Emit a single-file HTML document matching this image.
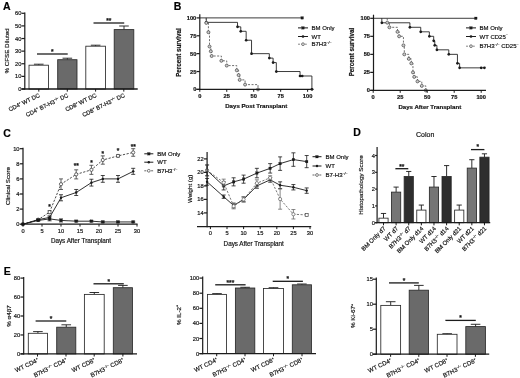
<!DOCTYPE html>
<html><head><meta charset="utf-8"><title>Figure</title>
<style>
html,body{margin:0;padding:0;background:#fff;}
svg{display:block;font-family:"Liberation Sans",sans-serif;}
</style></head><body>
<svg width="520" height="378" viewBox="0 0 520 378">
<defs><filter id="bl" x="-2%" y="-2%" width="104%" height="104%"><feGaussianBlur stdDeviation="0.35"/></filter></defs>
<rect width="520" height="378" fill="#fff"/>
<g filter="url(#bl)">
<text x="3.00" y="10.20" font-size="10.5" text-anchor="start" font-weight="bold" fill="#000" stroke="#000" stroke-width="0.18">A</text>
<line x1="38.75" y1="65.20" x2="38.75" y2="64.20" stroke="#1a1a1a" stroke-width="0.9" stroke-linecap="butt"/>
<line x1="33.95" y1="64.20" x2="43.55" y2="64.20" stroke="#1a1a1a" stroke-width="0.9" stroke-linecap="butt"/>
<rect x="29.00" y="65.20" width="19.50" height="23.80" fill="#ffffff" stroke="#2a2a2a" stroke-width="0.85"/>
<line x1="67.35" y1="59.70" x2="67.35" y2="58.20" stroke="#1a1a1a" stroke-width="0.9" stroke-linecap="butt"/>
<line x1="62.55" y1="58.20" x2="72.15" y2="58.20" stroke="#1a1a1a" stroke-width="0.9" stroke-linecap="butt"/>
<rect x="57.70" y="59.70" width="19.30" height="29.30" fill="#6a6a6a" stroke="#2a2a2a" stroke-width="0.85"/>
<line x1="95.65" y1="46.20" x2="95.65" y2="45.20" stroke="#1a1a1a" stroke-width="0.9" stroke-linecap="butt"/>
<line x1="90.85" y1="45.20" x2="100.45" y2="45.20" stroke="#1a1a1a" stroke-width="0.9" stroke-linecap="butt"/>
<rect x="85.80" y="46.20" width="19.70" height="42.80" fill="#ffffff" stroke="#2a2a2a" stroke-width="0.85"/>
<line x1="124.00" y1="29.60" x2="124.00" y2="26.00" stroke="#1a1a1a" stroke-width="0.9" stroke-linecap="butt"/>
<line x1="119.20" y1="26.00" x2="128.80" y2="26.00" stroke="#1a1a1a" stroke-width="0.9" stroke-linecap="butt"/>
<rect x="114.20" y="29.60" width="19.60" height="59.40" fill="#6a6a6a" stroke="#2a2a2a" stroke-width="0.85"/>
<line x1="24.80" y1="12.50" x2="24.80" y2="89.60" stroke="#1a1a1a" stroke-width="1.2" stroke-linecap="butt"/>
<line x1="21.50" y1="89.00" x2="24.80" y2="89.00" stroke="#1a1a1a" stroke-width="1.2" stroke-linecap="butt"/>
<text x="21.30" y="91.05" font-size="5.7" text-anchor="end" fill="#111" stroke="#111" stroke-width="0.18">0</text>
<line x1="21.50" y1="76.38" x2="24.80" y2="76.38" stroke="#1a1a1a" stroke-width="1.2" stroke-linecap="butt"/>
<text x="21.30" y="78.43" font-size="5.7" text-anchor="end" fill="#111" stroke="#111" stroke-width="0.18">10</text>
<line x1="21.50" y1="63.76" x2="24.80" y2="63.76" stroke="#1a1a1a" stroke-width="1.2" stroke-linecap="butt"/>
<text x="21.30" y="65.81" font-size="5.7" text-anchor="end" fill="#111" stroke="#111" stroke-width="0.18">20</text>
<line x1="21.50" y1="51.14" x2="24.80" y2="51.14" stroke="#1a1a1a" stroke-width="1.2" stroke-linecap="butt"/>
<text x="21.30" y="53.19" font-size="5.7" text-anchor="end" fill="#111" stroke="#111" stroke-width="0.18">30</text>
<line x1="21.50" y1="38.52" x2="24.80" y2="38.52" stroke="#1a1a1a" stroke-width="1.2" stroke-linecap="butt"/>
<text x="21.30" y="40.57" font-size="5.7" text-anchor="end" fill="#111" stroke="#111" stroke-width="0.18">40</text>
<line x1="21.50" y1="25.90" x2="24.80" y2="25.90" stroke="#1a1a1a" stroke-width="1.2" stroke-linecap="butt"/>
<text x="21.30" y="27.95" font-size="5.7" text-anchor="end" fill="#111" stroke="#111" stroke-width="0.18">50</text>
<line x1="21.50" y1="13.28" x2="24.80" y2="13.28" stroke="#1a1a1a" stroke-width="1.2" stroke-linecap="butt"/>
<text x="21.30" y="15.33" font-size="5.7" text-anchor="end" fill="#111" stroke="#111" stroke-width="0.18">60</text>
<line x1="21.50" y1="89.00" x2="137.70" y2="89.00" stroke="#1a1a1a" stroke-width="1.3" stroke-linecap="butt"/>
<line x1="38.80" y1="89.00" x2="38.80" y2="91.60" stroke="#1a1a1a" stroke-width="1.0" stroke-linecap="butt"/>
<text x="40.30" y="96.60" font-size="5.8" text-anchor="end" transform="rotate(-26 40.30 96.60)" fill="#111" stroke="#111" stroke-width="0.18">CD4<tspan font-size="58%" dy="-2.3">+</tspan><tspan dy="2.3">&#8203;</tspan> WT DC</text>
<line x1="67.30" y1="89.00" x2="67.30" y2="91.60" stroke="#1a1a1a" stroke-width="1.0" stroke-linecap="butt"/>
<text x="68.80" y="96.60" font-size="5.8" text-anchor="end" transform="rotate(-26 68.80 96.60)" fill="#111" stroke="#111" stroke-width="0.18">CD4<tspan font-size="58%" dy="-2.3">+</tspan><tspan dy="2.3">&#8203;</tspan> B7-H3<tspan font-size="58%" dy="-2.3">&#8722;/&#8722;</tspan><tspan dy="2.3">&#8203;</tspan> DC</text>
<line x1="95.60" y1="89.00" x2="95.60" y2="91.60" stroke="#1a1a1a" stroke-width="1.0" stroke-linecap="butt"/>
<text x="97.10" y="96.60" font-size="5.8" text-anchor="end" transform="rotate(-26 97.10 96.60)" fill="#111" stroke="#111" stroke-width="0.18">CD8<tspan font-size="58%" dy="-2.3">+</tspan><tspan dy="2.3">&#8203;</tspan> WT DC</text>
<line x1="123.80" y1="89.00" x2="123.80" y2="91.60" stroke="#1a1a1a" stroke-width="1.0" stroke-linecap="butt"/>
<text x="125.30" y="96.60" font-size="5.8" text-anchor="end" transform="rotate(-26 125.30 96.60)" fill="#111" stroke="#111" stroke-width="0.18">CD8<tspan font-size="58%" dy="-2.3">+</tspan><tspan dy="2.3">&#8203;</tspan> B7-H3<tspan font-size="58%" dy="-2.3">&#8722;/&#8722;</tspan><tspan dy="2.3">&#8203;</tspan> DC</text>
<text x="9.20" y="51.00" font-size="6.25" text-anchor="middle" transform="rotate(-90 9.20 51.00)" fill="#111" stroke="#111" stroke-width="0.18">% CFSE Diluted</text>
<line x1="37.00" y1="54.00" x2="67.70" y2="54.00" stroke="#1a1a1a" stroke-width="1.3" stroke-linecap="butt"/>
<text x="52.35" y="53.80" font-size="6.5" text-anchor="middle" font-weight="bold" fill="#111" stroke="#111" stroke-width="0.18">*</text>
<line x1="93.50" y1="23.00" x2="124.20" y2="23.00" stroke="#1a1a1a" stroke-width="1.3" stroke-linecap="butt"/>
<text x="108.85" y="22.80" font-size="6.5" text-anchor="middle" font-weight="bold" fill="#111" stroke="#111" stroke-width="0.18">**</text>
<text x="173.80" y="9.60" font-size="10.5" text-anchor="start" font-weight="bold" fill="#000" stroke="#000" stroke-width="0.18">B</text>
<line x1="199.80" y1="17.90" x2="302.21" y2="17.90" stroke="#1a1a1a" stroke-width="0.85" stroke-linecap="butt"/>
<rect x="300.91" y="16.60" width="2.60" height="2.60" fill="#1a1a1a" stroke="#1a1a1a" stroke-width="0.2"/>
<path d="M206.27,17.90 V22.37 H237.53 V26.84 H240.76 V31.31 H246.15 V40.24 H251.54 V53.65 H269.33 V58.12 H273.10 V62.59 H276.34 V71.53 H300.05 V75.99 H302.21 V75.99 H311.91 V89.40" fill="none" stroke="#1a1a1a" stroke-width="0.85"/>
<circle cx="206.27" cy="22.37" r="1.35" fill="#1a1a1a"/>
<circle cx="237.53" cy="26.84" r="1.35" fill="#1a1a1a"/>
<circle cx="240.76" cy="31.31" r="1.35" fill="#1a1a1a"/>
<circle cx="246.15" cy="40.24" r="1.35" fill="#1a1a1a"/>
<circle cx="251.54" cy="53.65" r="1.35" fill="#1a1a1a"/>
<circle cx="269.33" cy="58.12" r="1.35" fill="#1a1a1a"/>
<circle cx="273.10" cy="62.59" r="1.35" fill="#1a1a1a"/>
<circle cx="276.34" cy="71.53" r="1.35" fill="#1a1a1a"/>
<circle cx="300.05" cy="75.99" r="1.35" fill="#1a1a1a"/>
<circle cx="302.21" cy="75.99" r="1.35" fill="#1a1a1a"/>
<circle cx="311.91" cy="89.40" r="1.35" fill="#1a1a1a"/>
<path d="M206.27,17.90 V22.91 H208.42 V32.20 H209.50 V46.50 H210.80 V51.29 H211.66 V56.01 H221.36 V60.80 H226.75 V65.59 H236.78 V70.31 H238.61 V75.10 H239.69 V79.89 H245.08 V84.61 H258.01 V89.40" fill="none" stroke="#555" stroke-width="0.85" stroke-dasharray="2 1.5"/>
<circle cx="206.27" cy="22.91" r="1.5" fill="#ccc" stroke="#444" stroke-width="0.7"/>
<circle cx="208.42" cy="32.20" r="1.5" fill="#ccc" stroke="#444" stroke-width="0.7"/>
<circle cx="209.50" cy="46.50" r="1.5" fill="#ccc" stroke="#444" stroke-width="0.7"/>
<circle cx="210.80" cy="51.29" r="1.5" fill="#ccc" stroke="#444" stroke-width="0.7"/>
<circle cx="211.66" cy="56.01" r="1.5" fill="#ccc" stroke="#444" stroke-width="0.7"/>
<circle cx="221.36" cy="60.80" r="1.5" fill="#ccc" stroke="#444" stroke-width="0.7"/>
<circle cx="226.75" cy="65.59" r="1.5" fill="#ccc" stroke="#444" stroke-width="0.7"/>
<circle cx="236.78" cy="70.31" r="1.5" fill="#ccc" stroke="#444" stroke-width="0.7"/>
<circle cx="238.61" cy="75.10" r="1.5" fill="#ccc" stroke="#444" stroke-width="0.7"/>
<circle cx="239.69" cy="79.89" r="1.5" fill="#ccc" stroke="#444" stroke-width="0.7"/>
<circle cx="245.08" cy="84.61" r="1.5" fill="#ccc" stroke="#444" stroke-width="0.7"/>
<circle cx="258.01" cy="89.40" r="1.5" fill="#ccc" stroke="#444" stroke-width="0.7"/>
<line x1="199.80" y1="14.30" x2="199.80" y2="90.00" stroke="#1a1a1a" stroke-width="1.2" stroke-linecap="butt"/>
<line x1="196.50" y1="89.40" x2="199.80" y2="89.40" stroke="#1a1a1a" stroke-width="1.2" stroke-linecap="butt"/>
<text x="196.30" y="91.45" font-size="5.7" text-anchor="end" font-weight="bold" fill="#111" stroke="#111" stroke-width="0.18">0</text>
<line x1="196.50" y1="71.53" x2="199.80" y2="71.53" stroke="#1a1a1a" stroke-width="1.2" stroke-linecap="butt"/>
<text x="196.30" y="73.58" font-size="5.7" text-anchor="end" font-weight="bold" fill="#111" stroke="#111" stroke-width="0.18">25</text>
<line x1="196.50" y1="53.65" x2="199.80" y2="53.65" stroke="#1a1a1a" stroke-width="1.2" stroke-linecap="butt"/>
<text x="196.30" y="55.70" font-size="5.7" text-anchor="end" font-weight="bold" fill="#111" stroke="#111" stroke-width="0.18">50</text>
<line x1="196.50" y1="35.78" x2="199.80" y2="35.78" stroke="#1a1a1a" stroke-width="1.2" stroke-linecap="butt"/>
<text x="196.30" y="37.83" font-size="5.7" text-anchor="end" font-weight="bold" fill="#111" stroke="#111" stroke-width="0.18">75</text>
<line x1="196.50" y1="17.90" x2="199.80" y2="17.90" stroke="#1a1a1a" stroke-width="1.2" stroke-linecap="butt"/>
<text x="196.30" y="19.95" font-size="5.7" text-anchor="end" font-weight="bold" fill="#111" stroke="#111" stroke-width="0.18">100</text>
<line x1="196.50" y1="89.40" x2="313.50" y2="89.40" stroke="#1a1a1a" stroke-width="1.3" stroke-linecap="butt"/>
<line x1="199.80" y1="89.40" x2="199.80" y2="91.80" stroke="#1a1a1a" stroke-width="1.0" stroke-linecap="butt"/>
<text x="199.80" y="98.30" font-size="5.7" text-anchor="middle" font-weight="bold" fill="#111" stroke="#111" stroke-width="0.18">0</text>
<line x1="226.75" y1="89.40" x2="226.75" y2="91.80" stroke="#1a1a1a" stroke-width="1.0" stroke-linecap="butt"/>
<text x="226.75" y="98.30" font-size="5.7" text-anchor="middle" font-weight="bold" fill="#111" stroke="#111" stroke-width="0.18">25</text>
<line x1="253.70" y1="89.40" x2="253.70" y2="91.80" stroke="#1a1a1a" stroke-width="1.0" stroke-linecap="butt"/>
<text x="253.70" y="98.30" font-size="5.7" text-anchor="middle" font-weight="bold" fill="#111" stroke="#111" stroke-width="0.18">50</text>
<line x1="280.65" y1="89.40" x2="280.65" y2="91.80" stroke="#1a1a1a" stroke-width="1.0" stroke-linecap="butt"/>
<text x="280.65" y="98.30" font-size="5.7" text-anchor="middle" font-weight="bold" fill="#111" stroke="#111" stroke-width="0.18">75</text>
<line x1="307.60" y1="89.40" x2="307.60" y2="91.80" stroke="#1a1a1a" stroke-width="1.0" stroke-linecap="butt"/>
<text x="307.60" y="98.30" font-size="5.7" text-anchor="middle" font-weight="bold" fill="#111" stroke="#111" stroke-width="0.18">100</text>
<text x="256.20" y="108.20" font-size="6.1" text-anchor="middle" font-weight="bold" fill="#111" stroke="#111" stroke-width="0.18">Days Post Transplant</text>
<text x="181.00" y="52.50" font-size="6.3" text-anchor="middle" font-weight="bold" transform="rotate(-90 181.00 52.50)" fill="#111" stroke="#111" stroke-width="0.18">Percent survival</text>
<line x1="298.00" y1="27.90" x2="308.00" y2="27.90" stroke="#1a1a1a" stroke-width="1.0" stroke-linecap="butt"/>
<rect x="301.70" y="26.60" width="2.60" height="2.60" fill="#1a1a1a" stroke="#1a1a1a" stroke-width="0.2"/>
<text x="311.50" y="30.05" font-size="6.0" text-anchor="start" fill="#111" stroke="#111" stroke-width="0.18">BM Only</text>
<line x1="298.00" y1="36.50" x2="308.00" y2="36.50" stroke="#1a1a1a" stroke-width="1.0" stroke-linecap="butt"/>
<circle cx="303.00" cy="36.50" r="1.35" fill="#1a1a1a"/>
<text x="311.50" y="38.65" font-size="6.0" text-anchor="start" fill="#111" stroke="#111" stroke-width="0.18">WT</text>
<line x1="298.00" y1="44.20" x2="308.00" y2="44.20" stroke="#777" stroke-width="0.9" stroke-dasharray="2 1.4" stroke-linecap="butt"/>
<circle cx="303.00" cy="44.20" r="1.4" fill="#ddd" stroke="#555" stroke-width="0.7"/>
<text x="311.50" y="46.35" font-size="6.0" text-anchor="start" fill="#111" stroke="#111" stroke-width="0.18">B7H3<tspan font-size="58%" dy="-2.3">&#8722;/&#8722;</tspan><tspan dy="2.3">&#8203;</tspan></text>
<line x1="373.50" y1="18.30" x2="475.80" y2="18.30" stroke="#1a1a1a" stroke-width="0.85" stroke-linecap="butt"/>
<rect x="474.50" y="17.00" width="2.60" height="2.60" fill="#1a1a1a" stroke="#1a1a1a" stroke-width="0.2"/>
<path d="M381.84,18.30 V22.81 H409.92 V27.31 H420.72 V31.82 H429.36 V36.32 H433.68 V40.83 H434.76 V45.34 H436.92 V49.84 H448.80 V54.35 H457.44 V63.36 H459.60 V67.87 H481.20 V67.87 H484.44 V67.87" fill="none" stroke="#1a1a1a" stroke-width="0.85"/>
<circle cx="381.84" cy="22.81" r="1.35" fill="#1a1a1a"/>
<circle cx="409.92" cy="27.31" r="1.35" fill="#1a1a1a"/>
<circle cx="420.72" cy="31.82" r="1.35" fill="#1a1a1a"/>
<circle cx="429.36" cy="36.32" r="1.35" fill="#1a1a1a"/>
<circle cx="433.68" cy="40.83" r="1.35" fill="#1a1a1a"/>
<circle cx="434.76" cy="45.34" r="1.35" fill="#1a1a1a"/>
<circle cx="436.92" cy="49.84" r="1.35" fill="#1a1a1a"/>
<circle cx="448.80" cy="54.35" r="1.35" fill="#1a1a1a"/>
<circle cx="457.44" cy="63.36" r="1.35" fill="#1a1a1a"/>
<circle cx="459.60" cy="67.87" r="1.35" fill="#1a1a1a"/>
<circle cx="481.20" cy="67.87" r="1.35" fill="#1a1a1a"/>
<circle cx="484.44" cy="67.87" r="1.35" fill="#1a1a1a"/>
<path d="M387.24,18.30 V22.63 H389.40 V27.31 H397.50 V31.82 H399.12 V36.32 H403.44 V45.34 H404.30 V54.35 H408.84 V58.86 H411.32 V63.36 H412.94 V72.38 H414.24 V76.88 H417.48 V81.39 H421.80 V85.89 H425.80 V90.40" fill="none" stroke="#555" stroke-width="0.85" stroke-dasharray="2 1.5"/>
<circle cx="387.24" cy="22.63" r="1.5" fill="#ccc" stroke="#444" stroke-width="0.7"/>
<circle cx="389.40" cy="27.31" r="1.5" fill="#ccc" stroke="#444" stroke-width="0.7"/>
<circle cx="397.50" cy="31.82" r="1.5" fill="#ccc" stroke="#444" stroke-width="0.7"/>
<circle cx="399.12" cy="36.32" r="1.5" fill="#ccc" stroke="#444" stroke-width="0.7"/>
<circle cx="403.44" cy="45.34" r="1.5" fill="#ccc" stroke="#444" stroke-width="0.7"/>
<circle cx="404.30" cy="54.35" r="1.5" fill="#ccc" stroke="#444" stroke-width="0.7"/>
<circle cx="408.84" cy="58.86" r="1.5" fill="#ccc" stroke="#444" stroke-width="0.7"/>
<circle cx="411.32" cy="63.36" r="1.5" fill="#ccc" stroke="#444" stroke-width="0.7"/>
<circle cx="412.94" cy="72.38" r="1.5" fill="#ccc" stroke="#444" stroke-width="0.7"/>
<circle cx="414.24" cy="76.88" r="1.5" fill="#ccc" stroke="#444" stroke-width="0.7"/>
<circle cx="417.48" cy="81.39" r="1.5" fill="#ccc" stroke="#444" stroke-width="0.7"/>
<circle cx="421.80" cy="85.89" r="1.5" fill="#ccc" stroke="#444" stroke-width="0.7"/>
<circle cx="425.80" cy="90.40" r="1.5" fill="#ccc" stroke="#444" stroke-width="0.7"/>
<line x1="373.50" y1="14.70" x2="373.50" y2="91.00" stroke="#1a1a1a" stroke-width="1.2" stroke-linecap="butt"/>
<line x1="370.20" y1="90.40" x2="373.50" y2="90.40" stroke="#1a1a1a" stroke-width="1.2" stroke-linecap="butt"/>
<text x="370.00" y="92.45" font-size="5.7" text-anchor="end" font-weight="bold" fill="#111" stroke="#111" stroke-width="0.18">0</text>
<line x1="370.20" y1="72.38" x2="373.50" y2="72.38" stroke="#1a1a1a" stroke-width="1.2" stroke-linecap="butt"/>
<text x="370.00" y="74.43" font-size="5.7" text-anchor="end" font-weight="bold" fill="#111" stroke="#111" stroke-width="0.18">25</text>
<line x1="370.20" y1="54.35" x2="373.50" y2="54.35" stroke="#1a1a1a" stroke-width="1.2" stroke-linecap="butt"/>
<text x="370.00" y="56.40" font-size="5.7" text-anchor="end" font-weight="bold" fill="#111" stroke="#111" stroke-width="0.18">50</text>
<line x1="370.20" y1="36.32" x2="373.50" y2="36.32" stroke="#1a1a1a" stroke-width="1.2" stroke-linecap="butt"/>
<text x="370.00" y="38.38" font-size="5.7" text-anchor="end" font-weight="bold" fill="#111" stroke="#111" stroke-width="0.18">75</text>
<line x1="370.20" y1="18.30" x2="373.50" y2="18.30" stroke="#1a1a1a" stroke-width="1.2" stroke-linecap="butt"/>
<text x="370.00" y="20.35" font-size="5.7" text-anchor="end" font-weight="bold" fill="#111" stroke="#111" stroke-width="0.18">100</text>
<line x1="370.20" y1="90.40" x2="486.00" y2="90.40" stroke="#1a1a1a" stroke-width="1.3" stroke-linecap="butt"/>
<line x1="373.20" y1="90.40" x2="373.20" y2="92.80" stroke="#1a1a1a" stroke-width="1.0" stroke-linecap="butt"/>
<text x="373.20" y="98.80" font-size="5.7" text-anchor="middle" font-weight="bold" fill="#111" stroke="#111" stroke-width="0.18">0</text>
<line x1="400.20" y1="90.40" x2="400.20" y2="92.80" stroke="#1a1a1a" stroke-width="1.0" stroke-linecap="butt"/>
<text x="400.20" y="98.80" font-size="5.7" text-anchor="middle" font-weight="bold" fill="#111" stroke="#111" stroke-width="0.18">25</text>
<line x1="427.20" y1="90.40" x2="427.20" y2="92.80" stroke="#1a1a1a" stroke-width="1.0" stroke-linecap="butt"/>
<text x="427.20" y="98.80" font-size="5.7" text-anchor="middle" font-weight="bold" fill="#111" stroke="#111" stroke-width="0.18">50</text>
<line x1="454.20" y1="90.40" x2="454.20" y2="92.80" stroke="#1a1a1a" stroke-width="1.0" stroke-linecap="butt"/>
<text x="454.20" y="98.80" font-size="5.7" text-anchor="middle" font-weight="bold" fill="#111" stroke="#111" stroke-width="0.18">75</text>
<line x1="481.20" y1="90.40" x2="481.20" y2="92.80" stroke="#1a1a1a" stroke-width="1.0" stroke-linecap="butt"/>
<text x="481.20" y="98.80" font-size="5.7" text-anchor="middle" font-weight="bold" fill="#111" stroke="#111" stroke-width="0.18">100</text>
<text x="429.80" y="108.50" font-size="6.1" text-anchor="middle" font-weight="bold" fill="#111" stroke="#111" stroke-width="0.18">Days After Transplant</text>
<text x="354.00" y="52.00" font-size="6.3" text-anchor="middle" font-weight="bold" transform="rotate(-90 354.00 52.00)" fill="#111" stroke="#111" stroke-width="0.18">Percent survival</text>
<line x1="466.00" y1="27.90" x2="476.00" y2="27.90" stroke="#1a1a1a" stroke-width="1.0" stroke-linecap="butt"/>
<rect x="469.70" y="26.60" width="2.60" height="2.60" fill="#1a1a1a" stroke="#1a1a1a" stroke-width="0.2"/>
<text x="479.50" y="30.05" font-size="6.0" text-anchor="start" fill="#111" stroke="#111" stroke-width="0.18">BM Only</text>
<line x1="466.00" y1="36.50" x2="476.00" y2="36.50" stroke="#1a1a1a" stroke-width="1.0" stroke-linecap="butt"/>
<circle cx="471.00" cy="36.50" r="1.35" fill="#1a1a1a"/>
<text x="479.50" y="38.65" font-size="6.0" text-anchor="start" fill="#111" stroke="#111" stroke-width="0.18">WT CD25<tspan font-size="58%" dy="-2.3">&#8722;</tspan><tspan dy="2.3">&#8203;</tspan></text>
<line x1="466.00" y1="46.20" x2="476.00" y2="46.20" stroke="#777" stroke-width="0.9" stroke-dasharray="2 1.4" stroke-linecap="butt"/>
<circle cx="471.00" cy="46.20" r="1.4" fill="#ddd" stroke="#555" stroke-width="0.7"/>
<text x="479.50" y="48.35" font-size="6.0" text-anchor="start" fill="#111" stroke="#111" stroke-width="0.18">B7H3<tspan font-size="58%" dy="-2.3">&#8722;/&#8722;</tspan><tspan dy="2.3">&#8203;</tspan> CD25<tspan font-size="58%" dy="-2.3">&#8722;</tspan><tspan dy="2.3">&#8203;</tspan></text>
<text x="3.20" y="136.60" font-size="10.5" text-anchor="start" font-weight="bold" fill="#000" stroke="#000" stroke-width="0.18">C</text>
<path d="M23.00,224.20 L38.20,219.67 L49.60,212.12 L61.00,184.19 L76.20,174.37 L91.40,169.84 L102.80,160.02 L118.00,155.87 L133.20,152.47" fill="none" stroke="#3a3a3a" stroke-width="0.9" stroke-dasharray="2.2 1.5"/>
<circle cx="23.00" cy="224.20" r="1.6" fill="#fff" stroke="#3a3a3a" stroke-width="0.75"/>
<line x1="38.20" y1="218.91" x2="38.20" y2="220.42" stroke="#3a3a3a" stroke-width="0.8" stroke-linecap="butt"/>
<line x1="36.20" y1="218.91" x2="40.20" y2="218.91" stroke="#3a3a3a" stroke-width="0.8" stroke-linecap="butt"/>
<line x1="36.20" y1="220.42" x2="40.20" y2="220.42" stroke="#3a3a3a" stroke-width="0.8" stroke-linecap="butt"/>
<circle cx="38.20" cy="219.67" r="1.6" fill="#fff" stroke="#3a3a3a" stroke-width="0.75"/>
<line x1="49.60" y1="210.61" x2="49.60" y2="213.63" stroke="#3a3a3a" stroke-width="0.8" stroke-linecap="butt"/>
<line x1="47.60" y1="210.61" x2="51.60" y2="210.61" stroke="#3a3a3a" stroke-width="0.8" stroke-linecap="butt"/>
<line x1="47.60" y1="213.63" x2="51.60" y2="213.63" stroke="#3a3a3a" stroke-width="0.8" stroke-linecap="butt"/>
<circle cx="49.60" cy="212.12" r="1.6" fill="#fff" stroke="#3a3a3a" stroke-width="0.75"/>
<line x1="61.00" y1="178.90" x2="61.00" y2="189.47" stroke="#3a3a3a" stroke-width="0.8" stroke-linecap="butt"/>
<line x1="59.00" y1="178.90" x2="63.00" y2="178.90" stroke="#3a3a3a" stroke-width="0.8" stroke-linecap="butt"/>
<line x1="59.00" y1="189.47" x2="63.00" y2="189.47" stroke="#3a3a3a" stroke-width="0.8" stroke-linecap="butt"/>
<circle cx="61.00" cy="184.19" r="1.6" fill="#fff" stroke="#3a3a3a" stroke-width="0.75"/>
<line x1="76.20" y1="169.84" x2="76.20" y2="178.90" stroke="#3a3a3a" stroke-width="0.8" stroke-linecap="butt"/>
<line x1="74.20" y1="169.84" x2="78.20" y2="169.84" stroke="#3a3a3a" stroke-width="0.8" stroke-linecap="butt"/>
<line x1="74.20" y1="178.90" x2="78.20" y2="178.90" stroke="#3a3a3a" stroke-width="0.8" stroke-linecap="butt"/>
<circle cx="76.20" cy="174.37" r="1.6" fill="#fff" stroke="#3a3a3a" stroke-width="0.75"/>
<line x1="91.40" y1="165.31" x2="91.40" y2="174.37" stroke="#3a3a3a" stroke-width="0.8" stroke-linecap="butt"/>
<line x1="89.40" y1="165.31" x2="93.40" y2="165.31" stroke="#3a3a3a" stroke-width="0.8" stroke-linecap="butt"/>
<line x1="89.40" y1="174.37" x2="93.40" y2="174.37" stroke="#3a3a3a" stroke-width="0.8" stroke-linecap="butt"/>
<circle cx="91.40" cy="169.84" r="1.6" fill="#fff" stroke="#3a3a3a" stroke-width="0.75"/>
<line x1="102.80" y1="155.87" x2="102.80" y2="164.18" stroke="#3a3a3a" stroke-width="0.8" stroke-linecap="butt"/>
<line x1="100.80" y1="155.87" x2="104.80" y2="155.87" stroke="#3a3a3a" stroke-width="0.8" stroke-linecap="butt"/>
<line x1="100.80" y1="164.18" x2="104.80" y2="164.18" stroke="#3a3a3a" stroke-width="0.8" stroke-linecap="butt"/>
<circle cx="102.80" cy="160.02" r="1.6" fill="#fff" stroke="#3a3a3a" stroke-width="0.75"/>
<line x1="118.00" y1="154.74" x2="118.00" y2="157.00" stroke="#3a3a3a" stroke-width="0.8" stroke-linecap="butt"/>
<line x1="116.00" y1="154.74" x2="120.00" y2="154.74" stroke="#3a3a3a" stroke-width="0.8" stroke-linecap="butt"/>
<line x1="116.00" y1="157.00" x2="120.00" y2="157.00" stroke="#3a3a3a" stroke-width="0.8" stroke-linecap="butt"/>
<circle cx="118.00" cy="155.87" r="1.6" fill="#fff" stroke="#3a3a3a" stroke-width="0.75"/>
<line x1="133.20" y1="148.70" x2="133.20" y2="156.25" stroke="#3a3a3a" stroke-width="0.8" stroke-linecap="butt"/>
<line x1="131.20" y1="148.70" x2="135.20" y2="148.70" stroke="#3a3a3a" stroke-width="0.8" stroke-linecap="butt"/>
<line x1="131.20" y1="156.25" x2="135.20" y2="156.25" stroke="#3a3a3a" stroke-width="0.8" stroke-linecap="butt"/>
<circle cx="133.20" cy="152.47" r="1.6" fill="#fff" stroke="#3a3a3a" stroke-width="0.75"/>
<path d="M23.00,224.20 L38.20,220.42 L49.60,218.91 L61.00,220.42 L76.20,221.18 L91.40,221.18 L102.80,221.94 L118.00,221.94 L133.20,221.94" fill="none" stroke="#1a1a1a" stroke-width="0.9"/>
<rect x="21.70" y="222.90" width="2.60" height="2.60" fill="#1a1a1a" stroke="#1a1a1a" stroke-width="0.2"/>
<line x1="38.20" y1="219.67" x2="38.20" y2="221.18" stroke="#1a1a1a" stroke-width="0.8" stroke-linecap="butt"/>
<line x1="36.20" y1="219.67" x2="40.20" y2="219.67" stroke="#1a1a1a" stroke-width="0.8" stroke-linecap="butt"/>
<line x1="36.20" y1="221.18" x2="40.20" y2="221.18" stroke="#1a1a1a" stroke-width="0.8" stroke-linecap="butt"/>
<rect x="36.90" y="219.12" width="2.60" height="2.60" fill="#1a1a1a" stroke="#1a1a1a" stroke-width="0.2"/>
<line x1="49.60" y1="217.03" x2="49.60" y2="220.80" stroke="#1a1a1a" stroke-width="0.8" stroke-linecap="butt"/>
<line x1="47.60" y1="217.03" x2="51.60" y2="217.03" stroke="#1a1a1a" stroke-width="0.8" stroke-linecap="butt"/>
<line x1="47.60" y1="220.80" x2="51.60" y2="220.80" stroke="#1a1a1a" stroke-width="0.8" stroke-linecap="butt"/>
<rect x="48.30" y="217.61" width="2.60" height="2.60" fill="#1a1a1a" stroke="#1a1a1a" stroke-width="0.2"/>
<line x1="61.00" y1="218.91" x2="61.00" y2="221.94" stroke="#1a1a1a" stroke-width="0.8" stroke-linecap="butt"/>
<line x1="59.00" y1="218.91" x2="63.00" y2="218.91" stroke="#1a1a1a" stroke-width="0.8" stroke-linecap="butt"/>
<line x1="59.00" y1="221.94" x2="63.00" y2="221.94" stroke="#1a1a1a" stroke-width="0.8" stroke-linecap="butt"/>
<rect x="59.70" y="219.12" width="2.60" height="2.60" fill="#1a1a1a" stroke="#1a1a1a" stroke-width="0.2"/>
<line x1="76.20" y1="220.42" x2="76.20" y2="221.94" stroke="#1a1a1a" stroke-width="0.8" stroke-linecap="butt"/>
<line x1="74.20" y1="220.42" x2="78.20" y2="220.42" stroke="#1a1a1a" stroke-width="0.8" stroke-linecap="butt"/>
<line x1="74.20" y1="221.94" x2="78.20" y2="221.94" stroke="#1a1a1a" stroke-width="0.8" stroke-linecap="butt"/>
<rect x="74.90" y="219.88" width="2.60" height="2.60" fill="#1a1a1a" stroke="#1a1a1a" stroke-width="0.2"/>
<line x1="91.40" y1="220.42" x2="91.40" y2="221.94" stroke="#1a1a1a" stroke-width="0.8" stroke-linecap="butt"/>
<line x1="89.40" y1="220.42" x2="93.40" y2="220.42" stroke="#1a1a1a" stroke-width="0.8" stroke-linecap="butt"/>
<line x1="89.40" y1="221.94" x2="93.40" y2="221.94" stroke="#1a1a1a" stroke-width="0.8" stroke-linecap="butt"/>
<rect x="90.10" y="219.88" width="2.60" height="2.60" fill="#1a1a1a" stroke="#1a1a1a" stroke-width="0.2"/>
<line x1="102.80" y1="221.18" x2="102.80" y2="222.69" stroke="#1a1a1a" stroke-width="0.8" stroke-linecap="butt"/>
<line x1="100.80" y1="221.18" x2="104.80" y2="221.18" stroke="#1a1a1a" stroke-width="0.8" stroke-linecap="butt"/>
<line x1="100.80" y1="222.69" x2="104.80" y2="222.69" stroke="#1a1a1a" stroke-width="0.8" stroke-linecap="butt"/>
<rect x="101.50" y="220.63" width="2.60" height="2.60" fill="#1a1a1a" stroke="#1a1a1a" stroke-width="0.2"/>
<line x1="118.00" y1="221.18" x2="118.00" y2="222.69" stroke="#1a1a1a" stroke-width="0.8" stroke-linecap="butt"/>
<line x1="116.00" y1="221.18" x2="120.00" y2="221.18" stroke="#1a1a1a" stroke-width="0.8" stroke-linecap="butt"/>
<line x1="116.00" y1="222.69" x2="120.00" y2="222.69" stroke="#1a1a1a" stroke-width="0.8" stroke-linecap="butt"/>
<rect x="116.70" y="220.63" width="2.60" height="2.60" fill="#1a1a1a" stroke="#1a1a1a" stroke-width="0.2"/>
<line x1="133.20" y1="221.18" x2="133.20" y2="222.69" stroke="#1a1a1a" stroke-width="0.8" stroke-linecap="butt"/>
<line x1="131.20" y1="221.18" x2="135.20" y2="221.18" stroke="#1a1a1a" stroke-width="0.8" stroke-linecap="butt"/>
<line x1="131.20" y1="222.69" x2="135.20" y2="222.69" stroke="#1a1a1a" stroke-width="0.8" stroke-linecap="butt"/>
<rect x="131.90" y="220.63" width="2.60" height="2.60" fill="#1a1a1a" stroke="#1a1a1a" stroke-width="0.2"/>
<path d="M23.00,224.20 L38.20,219.67 L49.60,217.41 L61.00,197.77 L76.20,192.49 L91.40,182.67 L102.80,178.90 L118.00,178.90 L133.20,171.35" fill="none" stroke="#1a1a1a" stroke-width="0.9"/>
<circle cx="23.00" cy="224.20" r="1.2" fill="#1a1a1a"/>
<line x1="38.20" y1="218.91" x2="38.20" y2="220.42" stroke="#1a1a1a" stroke-width="0.8" stroke-linecap="butt"/>
<line x1="36.20" y1="218.91" x2="40.20" y2="218.91" stroke="#1a1a1a" stroke-width="0.8" stroke-linecap="butt"/>
<line x1="36.20" y1="220.42" x2="40.20" y2="220.42" stroke="#1a1a1a" stroke-width="0.8" stroke-linecap="butt"/>
<circle cx="38.20" cy="219.67" r="1.2" fill="#1a1a1a"/>
<line x1="49.60" y1="215.89" x2="49.60" y2="218.91" stroke="#1a1a1a" stroke-width="0.8" stroke-linecap="butt"/>
<line x1="47.60" y1="215.89" x2="51.60" y2="215.89" stroke="#1a1a1a" stroke-width="0.8" stroke-linecap="butt"/>
<line x1="47.60" y1="218.91" x2="51.60" y2="218.91" stroke="#1a1a1a" stroke-width="0.8" stroke-linecap="butt"/>
<circle cx="49.60" cy="217.41" r="1.2" fill="#1a1a1a"/>
<line x1="61.00" y1="194.75" x2="61.00" y2="200.79" stroke="#1a1a1a" stroke-width="0.8" stroke-linecap="butt"/>
<line x1="59.00" y1="194.75" x2="63.00" y2="194.75" stroke="#1a1a1a" stroke-width="0.8" stroke-linecap="butt"/>
<line x1="59.00" y1="200.79" x2="63.00" y2="200.79" stroke="#1a1a1a" stroke-width="0.8" stroke-linecap="butt"/>
<circle cx="61.00" cy="197.77" r="1.2" fill="#1a1a1a"/>
<line x1="76.20" y1="189.47" x2="76.20" y2="195.51" stroke="#1a1a1a" stroke-width="0.8" stroke-linecap="butt"/>
<line x1="74.20" y1="189.47" x2="78.20" y2="189.47" stroke="#1a1a1a" stroke-width="0.8" stroke-linecap="butt"/>
<line x1="74.20" y1="195.51" x2="78.20" y2="195.51" stroke="#1a1a1a" stroke-width="0.8" stroke-linecap="butt"/>
<circle cx="76.20" cy="192.49" r="1.2" fill="#1a1a1a"/>
<line x1="91.40" y1="179.28" x2="91.40" y2="186.07" stroke="#1a1a1a" stroke-width="0.8" stroke-linecap="butt"/>
<line x1="89.40" y1="179.28" x2="93.40" y2="179.28" stroke="#1a1a1a" stroke-width="0.8" stroke-linecap="butt"/>
<line x1="89.40" y1="186.07" x2="93.40" y2="186.07" stroke="#1a1a1a" stroke-width="0.8" stroke-linecap="butt"/>
<circle cx="91.40" cy="182.67" r="1.2" fill="#1a1a1a"/>
<line x1="102.80" y1="175.50" x2="102.80" y2="182.30" stroke="#1a1a1a" stroke-width="0.8" stroke-linecap="butt"/>
<line x1="100.80" y1="175.50" x2="104.80" y2="175.50" stroke="#1a1a1a" stroke-width="0.8" stroke-linecap="butt"/>
<line x1="100.80" y1="182.30" x2="104.80" y2="182.30" stroke="#1a1a1a" stroke-width="0.8" stroke-linecap="butt"/>
<circle cx="102.80" cy="178.90" r="1.2" fill="#1a1a1a"/>
<line x1="118.00" y1="175.50" x2="118.00" y2="182.30" stroke="#1a1a1a" stroke-width="0.8" stroke-linecap="butt"/>
<line x1="116.00" y1="175.50" x2="120.00" y2="175.50" stroke="#1a1a1a" stroke-width="0.8" stroke-linecap="butt"/>
<line x1="116.00" y1="182.30" x2="120.00" y2="182.30" stroke="#1a1a1a" stroke-width="0.8" stroke-linecap="butt"/>
<circle cx="118.00" cy="178.90" r="1.2" fill="#1a1a1a"/>
<line x1="133.20" y1="168.33" x2="133.20" y2="174.37" stroke="#1a1a1a" stroke-width="0.8" stroke-linecap="butt"/>
<line x1="131.20" y1="168.33" x2="135.20" y2="168.33" stroke="#1a1a1a" stroke-width="0.8" stroke-linecap="butt"/>
<line x1="131.20" y1="174.37" x2="135.20" y2="174.37" stroke="#1a1a1a" stroke-width="0.8" stroke-linecap="butt"/>
<circle cx="133.20" cy="171.35" r="1.2" fill="#1a1a1a"/>
<line x1="23.00" y1="147.70" x2="23.00" y2="224.80" stroke="#1a1a1a" stroke-width="1.2" stroke-linecap="butt"/>
<line x1="19.70" y1="224.20" x2="23.00" y2="224.20" stroke="#1a1a1a" stroke-width="1.2" stroke-linecap="butt"/>
<text x="19.50" y="226.25" font-size="5.7" text-anchor="end" fill="#111" stroke="#111" stroke-width="0.18">0</text>
<line x1="19.70" y1="209.10" x2="23.00" y2="209.10" stroke="#1a1a1a" stroke-width="1.2" stroke-linecap="butt"/>
<text x="19.50" y="211.15" font-size="5.7" text-anchor="end" fill="#111" stroke="#111" stroke-width="0.18">2</text>
<line x1="19.70" y1="194.00" x2="23.00" y2="194.00" stroke="#1a1a1a" stroke-width="1.2" stroke-linecap="butt"/>
<text x="19.50" y="196.05" font-size="5.7" text-anchor="end" fill="#111" stroke="#111" stroke-width="0.18">4</text>
<line x1="19.70" y1="178.90" x2="23.00" y2="178.90" stroke="#1a1a1a" stroke-width="1.2" stroke-linecap="butt"/>
<text x="19.50" y="180.95" font-size="5.7" text-anchor="end" fill="#111" stroke="#111" stroke-width="0.18">6</text>
<line x1="19.70" y1="163.80" x2="23.00" y2="163.80" stroke="#1a1a1a" stroke-width="1.2" stroke-linecap="butt"/>
<text x="19.50" y="165.85" font-size="5.7" text-anchor="end" fill="#111" stroke="#111" stroke-width="0.18">8</text>
<line x1="19.70" y1="148.70" x2="23.00" y2="148.70" stroke="#1a1a1a" stroke-width="1.2" stroke-linecap="butt"/>
<text x="19.50" y="150.75" font-size="5.7" text-anchor="end" fill="#111" stroke="#111" stroke-width="0.18">10</text>
<line x1="20.80" y1="224.20" x2="137.60" y2="224.20" stroke="#1a1a1a" stroke-width="1.3" stroke-linecap="butt"/>
<line x1="23.00" y1="224.20" x2="23.00" y2="226.60" stroke="#1a1a1a" stroke-width="1.0" stroke-linecap="butt"/>
<text x="23.00" y="233.30" font-size="5.7" text-anchor="middle" fill="#111" stroke="#111" stroke-width="0.18">0</text>
<line x1="42.00" y1="224.20" x2="42.00" y2="226.60" stroke="#1a1a1a" stroke-width="1.0" stroke-linecap="butt"/>
<text x="42.00" y="233.30" font-size="5.7" text-anchor="middle" fill="#111" stroke="#111" stroke-width="0.18">5</text>
<line x1="61.00" y1="224.20" x2="61.00" y2="226.60" stroke="#1a1a1a" stroke-width="1.0" stroke-linecap="butt"/>
<text x="61.00" y="233.30" font-size="5.7" text-anchor="middle" fill="#111" stroke="#111" stroke-width="0.18">10</text>
<line x1="80.00" y1="224.20" x2="80.00" y2="226.60" stroke="#1a1a1a" stroke-width="1.0" stroke-linecap="butt"/>
<text x="80.00" y="233.30" font-size="5.7" text-anchor="middle" fill="#111" stroke="#111" stroke-width="0.18">15</text>
<line x1="99.00" y1="224.20" x2="99.00" y2="226.60" stroke="#1a1a1a" stroke-width="1.0" stroke-linecap="butt"/>
<text x="99.00" y="233.30" font-size="5.7" text-anchor="middle" fill="#111" stroke="#111" stroke-width="0.18">20</text>
<line x1="118.00" y1="224.20" x2="118.00" y2="226.60" stroke="#1a1a1a" stroke-width="1.0" stroke-linecap="butt"/>
<text x="118.00" y="233.30" font-size="5.7" text-anchor="middle" fill="#111" stroke="#111" stroke-width="0.18">25</text>
<line x1="137.00" y1="224.20" x2="137.00" y2="226.60" stroke="#1a1a1a" stroke-width="1.0" stroke-linecap="butt"/>
<text x="137.00" y="233.30" font-size="5.7" text-anchor="middle" fill="#111" stroke="#111" stroke-width="0.18">30</text>
<text x="81.00" y="243.00" font-size="6.3" text-anchor="middle" fill="#111" stroke="#111" stroke-width="0.18">Days After Transplant</text>
<text x="9.50" y="186.00" font-size="6.2" text-anchor="middle" transform="rotate(-90 9.50 186.00)" fill="#111" stroke="#111" stroke-width="0.18">Clinical Score</text>
<line x1="144.30" y1="153.80" x2="153.30" y2="153.80" stroke="#1a1a1a" stroke-width="1.0" stroke-linecap="butt"/>
<rect x="147.50" y="152.50" width="2.60" height="2.60" fill="#1a1a1a" stroke="#1a1a1a" stroke-width="0.2"/>
<text x="157.30" y="155.95" font-size="6.0" text-anchor="start" fill="#111" stroke="#111" stroke-width="0.18">BM Only</text>
<line x1="144.30" y1="162.20" x2="153.30" y2="162.20" stroke="#1a1a1a" stroke-width="1.0" stroke-linecap="butt"/>
<circle cx="148.80" cy="162.20" r="1.2" fill="#1a1a1a"/>
<text x="157.30" y="164.35" font-size="6.0" text-anchor="start" fill="#111" stroke="#111" stroke-width="0.18">WT</text>
<line x1="144.30" y1="170.80" x2="153.30" y2="170.80" stroke="#555" stroke-width="0.9" stroke-dasharray="2 1.4" stroke-linecap="butt"/>
<circle cx="148.80" cy="170.80" r="1.4" fill="#fff" stroke="#444" stroke-width="0.7"/>
<text x="157.30" y="172.95" font-size="6.0" text-anchor="start" fill="#111" stroke="#111" stroke-width="0.18">B7H3<tspan font-size="58%" dy="-2.3">&#8722;/&#8722;</tspan><tspan dy="2.3">&#8203;</tspan></text>
<text x="49.60" y="209.00" font-size="6.5" text-anchor="middle" font-weight="bold" fill="#111" stroke="#111" stroke-width="0.18">*</text>
<text x="76.20" y="168.00" font-size="6.5" text-anchor="middle" font-weight="bold" fill="#111" stroke="#111" stroke-width="0.18">**</text>
<text x="91.40" y="164.50" font-size="6.5" text-anchor="middle" font-weight="bold" fill="#111" stroke="#111" stroke-width="0.18">*</text>
<text x="102.80" y="155.50" font-size="6.5" text-anchor="middle" font-weight="bold" fill="#111" stroke="#111" stroke-width="0.18">*</text>
<text x="118.00" y="153.00" font-size="6.5" text-anchor="middle" font-weight="bold" fill="#111" stroke="#111" stroke-width="0.18">*</text>
<text x="133.20" y="149.30" font-size="6.5" text-anchor="middle" font-weight="bold" fill="#111" stroke="#111" stroke-width="0.18">**</text>
<path d="M207.08,170.38 L223.68,185.90 L233.64,181.85 L243.60,179.15 L256.88,173.08 L270.16,168.35 L280.12,163.62 L293.40,159.58 L306.68,161.60" fill="none" stroke="#1a1a1a" stroke-width="0.9"/>
<line x1="207.08" y1="164.97" x2="207.08" y2="175.78" stroke="#1a1a1a" stroke-width="0.8" stroke-linecap="butt"/>
<line x1="205.08" y1="164.97" x2="209.08" y2="164.97" stroke="#1a1a1a" stroke-width="0.8" stroke-linecap="butt"/>
<line x1="205.08" y1="175.78" x2="209.08" y2="175.78" stroke="#1a1a1a" stroke-width="0.8" stroke-linecap="butt"/>
<rect x="205.78" y="169.07" width="2.60" height="2.60" fill="#1a1a1a" stroke="#1a1a1a" stroke-width="0.2"/>
<line x1="223.68" y1="181.85" x2="223.68" y2="189.95" stroke="#1a1a1a" stroke-width="0.8" stroke-linecap="butt"/>
<line x1="221.68" y1="181.85" x2="225.68" y2="181.85" stroke="#1a1a1a" stroke-width="0.8" stroke-linecap="butt"/>
<line x1="221.68" y1="189.95" x2="225.68" y2="189.95" stroke="#1a1a1a" stroke-width="0.8" stroke-linecap="butt"/>
<rect x="222.38" y="184.60" width="2.60" height="2.60" fill="#1a1a1a" stroke="#1a1a1a" stroke-width="0.2"/>
<line x1="233.64" y1="177.80" x2="233.64" y2="185.90" stroke="#1a1a1a" stroke-width="0.8" stroke-linecap="butt"/>
<line x1="231.64" y1="177.80" x2="235.64" y2="177.80" stroke="#1a1a1a" stroke-width="0.8" stroke-linecap="butt"/>
<line x1="231.64" y1="185.90" x2="235.64" y2="185.90" stroke="#1a1a1a" stroke-width="0.8" stroke-linecap="butt"/>
<rect x="232.34" y="180.55" width="2.60" height="2.60" fill="#1a1a1a" stroke="#1a1a1a" stroke-width="0.2"/>
<line x1="243.60" y1="175.10" x2="243.60" y2="183.20" stroke="#1a1a1a" stroke-width="0.8" stroke-linecap="butt"/>
<line x1="241.60" y1="175.10" x2="245.60" y2="175.10" stroke="#1a1a1a" stroke-width="0.8" stroke-linecap="butt"/>
<line x1="241.60" y1="183.20" x2="245.60" y2="183.20" stroke="#1a1a1a" stroke-width="0.8" stroke-linecap="butt"/>
<rect x="242.30" y="177.85" width="2.60" height="2.60" fill="#1a1a1a" stroke="#1a1a1a" stroke-width="0.2"/>
<line x1="256.88" y1="168.35" x2="256.88" y2="177.80" stroke="#1a1a1a" stroke-width="0.8" stroke-linecap="butt"/>
<line x1="254.88" y1="168.35" x2="258.88" y2="168.35" stroke="#1a1a1a" stroke-width="0.8" stroke-linecap="butt"/>
<line x1="254.88" y1="177.80" x2="258.88" y2="177.80" stroke="#1a1a1a" stroke-width="0.8" stroke-linecap="butt"/>
<rect x="255.58" y="171.78" width="2.60" height="2.60" fill="#1a1a1a" stroke="#1a1a1a" stroke-width="0.2"/>
<line x1="270.16" y1="163.62" x2="270.16" y2="173.07" stroke="#1a1a1a" stroke-width="0.8" stroke-linecap="butt"/>
<line x1="268.16" y1="163.62" x2="272.16" y2="163.62" stroke="#1a1a1a" stroke-width="0.8" stroke-linecap="butt"/>
<line x1="268.16" y1="173.07" x2="272.16" y2="173.07" stroke="#1a1a1a" stroke-width="0.8" stroke-linecap="butt"/>
<rect x="268.86" y="167.05" width="2.60" height="2.60" fill="#1a1a1a" stroke="#1a1a1a" stroke-width="0.2"/>
<line x1="280.12" y1="156.88" x2="280.12" y2="170.38" stroke="#1a1a1a" stroke-width="0.8" stroke-linecap="butt"/>
<line x1="278.12" y1="156.88" x2="282.12" y2="156.88" stroke="#1a1a1a" stroke-width="0.8" stroke-linecap="butt"/>
<line x1="278.12" y1="170.38" x2="282.12" y2="170.38" stroke="#1a1a1a" stroke-width="0.8" stroke-linecap="butt"/>
<rect x="278.82" y="162.32" width="2.60" height="2.60" fill="#1a1a1a" stroke="#1a1a1a" stroke-width="0.2"/>
<line x1="293.40" y1="152.83" x2="293.40" y2="166.33" stroke="#1a1a1a" stroke-width="0.8" stroke-linecap="butt"/>
<line x1="291.40" y1="152.83" x2="295.40" y2="152.83" stroke="#1a1a1a" stroke-width="0.8" stroke-linecap="butt"/>
<line x1="291.40" y1="166.33" x2="295.40" y2="166.33" stroke="#1a1a1a" stroke-width="0.8" stroke-linecap="butt"/>
<rect x="292.10" y="158.28" width="2.60" height="2.60" fill="#1a1a1a" stroke="#1a1a1a" stroke-width="0.2"/>
<line x1="306.68" y1="155.53" x2="306.68" y2="167.67" stroke="#1a1a1a" stroke-width="0.8" stroke-linecap="butt"/>
<line x1="304.68" y1="155.53" x2="308.68" y2="155.53" stroke="#1a1a1a" stroke-width="0.8" stroke-linecap="butt"/>
<line x1="304.68" y1="167.67" x2="308.68" y2="167.67" stroke="#1a1a1a" stroke-width="0.8" stroke-linecap="butt"/>
<rect x="305.38" y="160.30" width="2.60" height="2.60" fill="#1a1a1a" stroke="#1a1a1a" stroke-width="0.2"/>
<path d="M207.08,181.85 L223.68,196.70 L233.64,205.48 L243.60,199.40 L256.88,185.90 L270.16,179.83 L280.12,185.22 L293.40,187.25 L306.68,190.62" fill="none" stroke="#1a1a1a" stroke-width="0.9"/>
<line x1="207.08" y1="178.47" x2="207.08" y2="185.22" stroke="#1a1a1a" stroke-width="0.8" stroke-linecap="butt"/>
<line x1="205.08" y1="178.47" x2="209.08" y2="178.47" stroke="#1a1a1a" stroke-width="0.8" stroke-linecap="butt"/>
<line x1="205.08" y1="185.22" x2="209.08" y2="185.22" stroke="#1a1a1a" stroke-width="0.8" stroke-linecap="butt"/>
<circle cx="207.08" cy="181.85" r="1.2" fill="#1a1a1a"/>
<line x1="223.68" y1="195.01" x2="223.68" y2="198.39" stroke="#1a1a1a" stroke-width="0.8" stroke-linecap="butt"/>
<line x1="221.68" y1="195.01" x2="225.68" y2="195.01" stroke="#1a1a1a" stroke-width="0.8" stroke-linecap="butt"/>
<line x1="221.68" y1="198.39" x2="225.68" y2="198.39" stroke="#1a1a1a" stroke-width="0.8" stroke-linecap="butt"/>
<circle cx="223.68" cy="196.70" r="1.2" fill="#1a1a1a"/>
<line x1="233.64" y1="203.11" x2="233.64" y2="207.84" stroke="#1a1a1a" stroke-width="0.8" stroke-linecap="butt"/>
<line x1="231.64" y1="203.11" x2="235.64" y2="203.11" stroke="#1a1a1a" stroke-width="0.8" stroke-linecap="butt"/>
<line x1="231.64" y1="207.84" x2="235.64" y2="207.84" stroke="#1a1a1a" stroke-width="0.8" stroke-linecap="butt"/>
<circle cx="233.64" cy="205.48" r="1.2" fill="#1a1a1a"/>
<line x1="243.60" y1="197.04" x2="243.60" y2="201.76" stroke="#1a1a1a" stroke-width="0.8" stroke-linecap="butt"/>
<line x1="241.60" y1="197.04" x2="245.60" y2="197.04" stroke="#1a1a1a" stroke-width="0.8" stroke-linecap="butt"/>
<line x1="241.60" y1="201.76" x2="245.60" y2="201.76" stroke="#1a1a1a" stroke-width="0.8" stroke-linecap="butt"/>
<circle cx="243.60" cy="199.40" r="1.2" fill="#1a1a1a"/>
<line x1="256.88" y1="183.54" x2="256.88" y2="188.26" stroke="#1a1a1a" stroke-width="0.8" stroke-linecap="butt"/>
<line x1="254.88" y1="183.54" x2="258.88" y2="183.54" stroke="#1a1a1a" stroke-width="0.8" stroke-linecap="butt"/>
<line x1="254.88" y1="188.26" x2="258.88" y2="188.26" stroke="#1a1a1a" stroke-width="0.8" stroke-linecap="butt"/>
<circle cx="256.88" cy="185.90" r="1.2" fill="#1a1a1a"/>
<line x1="270.16" y1="177.46" x2="270.16" y2="182.19" stroke="#1a1a1a" stroke-width="0.8" stroke-linecap="butt"/>
<line x1="268.16" y1="177.46" x2="272.16" y2="177.46" stroke="#1a1a1a" stroke-width="0.8" stroke-linecap="butt"/>
<line x1="268.16" y1="182.19" x2="272.16" y2="182.19" stroke="#1a1a1a" stroke-width="0.8" stroke-linecap="butt"/>
<circle cx="270.16" cy="179.83" r="1.2" fill="#1a1a1a"/>
<line x1="280.12" y1="181.85" x2="280.12" y2="188.60" stroke="#1a1a1a" stroke-width="0.8" stroke-linecap="butt"/>
<line x1="278.12" y1="181.85" x2="282.12" y2="181.85" stroke="#1a1a1a" stroke-width="0.8" stroke-linecap="butt"/>
<line x1="278.12" y1="188.60" x2="282.12" y2="188.60" stroke="#1a1a1a" stroke-width="0.8" stroke-linecap="butt"/>
<circle cx="280.12" cy="185.22" r="1.2" fill="#1a1a1a"/>
<line x1="293.40" y1="184.55" x2="293.40" y2="189.95" stroke="#1a1a1a" stroke-width="0.8" stroke-linecap="butt"/>
<line x1="291.40" y1="184.55" x2="295.40" y2="184.55" stroke="#1a1a1a" stroke-width="0.8" stroke-linecap="butt"/>
<line x1="291.40" y1="189.95" x2="295.40" y2="189.95" stroke="#1a1a1a" stroke-width="0.8" stroke-linecap="butt"/>
<circle cx="293.40" cy="187.25" r="1.2" fill="#1a1a1a"/>
<line x1="306.68" y1="187.93" x2="306.68" y2="193.32" stroke="#1a1a1a" stroke-width="0.8" stroke-linecap="butt"/>
<line x1="304.68" y1="187.93" x2="308.68" y2="187.93" stroke="#1a1a1a" stroke-width="0.8" stroke-linecap="butt"/>
<line x1="304.68" y1="193.32" x2="308.68" y2="193.32" stroke="#1a1a1a" stroke-width="0.8" stroke-linecap="butt"/>
<circle cx="306.68" cy="190.62" r="1.2" fill="#1a1a1a"/>
<path d="M207.08,170.38 L223.68,182.53 L233.64,206.15 L243.60,199.40 L256.88,183.20 L270.16,177.80 L280.12,199.06 L293.40,214.25 L306.68,214.93" fill="none" stroke="#6a6a6a" stroke-width="0.9" stroke-dasharray="2.2 1.5"/>
<line x1="207.08" y1="164.97" x2="207.08" y2="175.78" stroke="#6a6a6a" stroke-width="0.8" stroke-linecap="butt"/>
<line x1="205.08" y1="164.97" x2="209.08" y2="164.97" stroke="#6a6a6a" stroke-width="0.8" stroke-linecap="butt"/>
<line x1="205.08" y1="175.78" x2="209.08" y2="175.78" stroke="#6a6a6a" stroke-width="0.8" stroke-linecap="butt"/>
<circle cx="207.08" cy="170.38" r="1.6" fill="#fff" stroke="#6a6a6a" stroke-width="0.75"/>
<line x1="223.68" y1="179.15" x2="223.68" y2="185.90" stroke="#6a6a6a" stroke-width="0.8" stroke-linecap="butt"/>
<line x1="221.68" y1="179.15" x2="225.68" y2="179.15" stroke="#6a6a6a" stroke-width="0.8" stroke-linecap="butt"/>
<line x1="221.68" y1="185.90" x2="225.68" y2="185.90" stroke="#6a6a6a" stroke-width="0.8" stroke-linecap="butt"/>
<circle cx="223.68" cy="182.53" r="1.6" fill="#fff" stroke="#6a6a6a" stroke-width="0.75"/>
<line x1="233.64" y1="203.45" x2="233.64" y2="208.85" stroke="#6a6a6a" stroke-width="0.8" stroke-linecap="butt"/>
<line x1="231.64" y1="203.45" x2="235.64" y2="203.45" stroke="#6a6a6a" stroke-width="0.8" stroke-linecap="butt"/>
<line x1="231.64" y1="208.85" x2="235.64" y2="208.85" stroke="#6a6a6a" stroke-width="0.8" stroke-linecap="butt"/>
<circle cx="233.64" cy="206.15" r="1.6" fill="#fff" stroke="#6a6a6a" stroke-width="0.75"/>
<line x1="243.60" y1="196.70" x2="243.60" y2="202.10" stroke="#6a6a6a" stroke-width="0.8" stroke-linecap="butt"/>
<line x1="241.60" y1="196.70" x2="245.60" y2="196.70" stroke="#6a6a6a" stroke-width="0.8" stroke-linecap="butt"/>
<line x1="241.60" y1="202.10" x2="245.60" y2="202.10" stroke="#6a6a6a" stroke-width="0.8" stroke-linecap="butt"/>
<circle cx="243.60" cy="199.40" r="1.6" fill="#fff" stroke="#6a6a6a" stroke-width="0.75"/>
<line x1="256.88" y1="179.83" x2="256.88" y2="186.58" stroke="#6a6a6a" stroke-width="0.8" stroke-linecap="butt"/>
<line x1="254.88" y1="179.83" x2="258.88" y2="179.83" stroke="#6a6a6a" stroke-width="0.8" stroke-linecap="butt"/>
<line x1="254.88" y1="186.58" x2="258.88" y2="186.58" stroke="#6a6a6a" stroke-width="0.8" stroke-linecap="butt"/>
<circle cx="256.88" cy="183.20" r="1.6" fill="#fff" stroke="#6a6a6a" stroke-width="0.75"/>
<line x1="270.16" y1="175.78" x2="270.16" y2="179.83" stroke="#6a6a6a" stroke-width="0.8" stroke-linecap="butt"/>
<line x1="268.16" y1="175.78" x2="272.16" y2="175.78" stroke="#6a6a6a" stroke-width="0.8" stroke-linecap="butt"/>
<line x1="268.16" y1="179.83" x2="272.16" y2="179.83" stroke="#6a6a6a" stroke-width="0.8" stroke-linecap="butt"/>
<circle cx="270.16" cy="177.80" r="1.6" fill="#fff" stroke="#6a6a6a" stroke-width="0.75"/>
<line x1="280.12" y1="188.94" x2="280.12" y2="209.19" stroke="#6a6a6a" stroke-width="0.8" stroke-linecap="butt"/>
<line x1="278.12" y1="188.94" x2="282.12" y2="188.94" stroke="#6a6a6a" stroke-width="0.8" stroke-linecap="butt"/>
<line x1="278.12" y1="209.19" x2="282.12" y2="209.19" stroke="#6a6a6a" stroke-width="0.8" stroke-linecap="butt"/>
<circle cx="280.12" cy="199.06" r="1.6" fill="#fff" stroke="#6a6a6a" stroke-width="0.75"/>
<line x1="293.40" y1="209.53" x2="293.40" y2="218.97" stroke="#6a6a6a" stroke-width="0.8" stroke-linecap="butt"/>
<line x1="291.40" y1="209.53" x2="295.40" y2="209.53" stroke="#6a6a6a" stroke-width="0.8" stroke-linecap="butt"/>
<line x1="291.40" y1="218.97" x2="295.40" y2="218.97" stroke="#6a6a6a" stroke-width="0.8" stroke-linecap="butt"/>
<circle cx="293.40" cy="214.25" r="1.6" fill="#fff" stroke="#6a6a6a" stroke-width="0.75"/>
<rect x="305.18" y="213.43" width="3.00" height="3.00" fill="#fff" stroke="#444" stroke-width="0.7"/>
<line x1="207.10" y1="152.00" x2="207.10" y2="227.30" stroke="#1a1a1a" stroke-width="1.2" stroke-linecap="butt"/>
<line x1="203.80" y1="212.90" x2="207.10" y2="212.90" stroke="#1a1a1a" stroke-width="1.2" stroke-linecap="butt"/>
<text x="203.60" y="214.95" font-size="5.7" text-anchor="end" fill="#111" stroke="#111" stroke-width="0.18">14</text>
<line x1="203.80" y1="199.40" x2="207.10" y2="199.40" stroke="#1a1a1a" stroke-width="1.2" stroke-linecap="butt"/>
<text x="203.60" y="201.45" font-size="5.7" text-anchor="end" fill="#111" stroke="#111" stroke-width="0.18">16</text>
<line x1="203.80" y1="185.90" x2="207.10" y2="185.90" stroke="#1a1a1a" stroke-width="1.2" stroke-linecap="butt"/>
<text x="203.60" y="187.95" font-size="5.7" text-anchor="end" fill="#111" stroke="#111" stroke-width="0.18">18</text>
<line x1="203.80" y1="172.40" x2="207.10" y2="172.40" stroke="#1a1a1a" stroke-width="1.2" stroke-linecap="butt"/>
<text x="203.60" y="174.45" font-size="5.7" text-anchor="end" fill="#111" stroke="#111" stroke-width="0.18">20</text>
<line x1="203.80" y1="158.90" x2="207.10" y2="158.90" stroke="#1a1a1a" stroke-width="1.2" stroke-linecap="butt"/>
<text x="203.60" y="160.95" font-size="5.7" text-anchor="end" fill="#111" stroke="#111" stroke-width="0.18">22</text>
<line x1="197.00" y1="226.70" x2="311.20" y2="226.70" stroke="#1a1a1a" stroke-width="1.3" stroke-linecap="butt"/>
<line x1="210.40" y1="226.70" x2="210.40" y2="229.10" stroke="#1a1a1a" stroke-width="1.0" stroke-linecap="butt"/>
<text x="210.40" y="235.30" font-size="5.7" text-anchor="middle" fill="#111" stroke="#111" stroke-width="0.18">0</text>
<line x1="227.00" y1="226.70" x2="227.00" y2="229.10" stroke="#1a1a1a" stroke-width="1.0" stroke-linecap="butt"/>
<text x="227.00" y="235.30" font-size="5.7" text-anchor="middle" fill="#111" stroke="#111" stroke-width="0.18">5</text>
<line x1="243.60" y1="226.70" x2="243.60" y2="229.10" stroke="#1a1a1a" stroke-width="1.0" stroke-linecap="butt"/>
<text x="243.60" y="235.30" font-size="5.7" text-anchor="middle" fill="#111" stroke="#111" stroke-width="0.18">10</text>
<line x1="260.20" y1="226.70" x2="260.20" y2="229.10" stroke="#1a1a1a" stroke-width="1.0" stroke-linecap="butt"/>
<text x="260.20" y="235.30" font-size="5.7" text-anchor="middle" fill="#111" stroke="#111" stroke-width="0.18">15</text>
<line x1="276.80" y1="226.70" x2="276.80" y2="229.10" stroke="#1a1a1a" stroke-width="1.0" stroke-linecap="butt"/>
<text x="276.80" y="235.30" font-size="5.7" text-anchor="middle" fill="#111" stroke="#111" stroke-width="0.18">20</text>
<line x1="293.40" y1="226.70" x2="293.40" y2="229.10" stroke="#1a1a1a" stroke-width="1.0" stroke-linecap="butt"/>
<text x="293.40" y="235.30" font-size="5.7" text-anchor="middle" fill="#111" stroke="#111" stroke-width="0.18">25</text>
<line x1="310.00" y1="226.70" x2="310.00" y2="229.10" stroke="#1a1a1a" stroke-width="1.0" stroke-linecap="butt"/>
<text x="310.00" y="235.30" font-size="5.7" text-anchor="middle" fill="#111" stroke="#111" stroke-width="0.18">30</text>
<text x="253.70" y="245.80" font-size="6.3" text-anchor="middle" fill="#111" stroke="#111" stroke-width="0.18">Days After Transplant</text>
<text x="192.30" y="188.80" font-size="6.2" text-anchor="middle" transform="rotate(-90 192.30 188.80)" fill="#111" stroke="#111" stroke-width="0.18">Weight (g)</text>
<line x1="312.50" y1="156.70" x2="321.50" y2="156.70" stroke="#1a1a1a" stroke-width="1.0" stroke-linecap="butt"/>
<rect x="315.70" y="155.40" width="2.60" height="2.60" fill="#1a1a1a" stroke="#1a1a1a" stroke-width="0.2"/>
<text x="325.50" y="158.85" font-size="6.0" text-anchor="start" fill="#111" stroke="#111" stroke-width="0.18">BM Only</text>
<line x1="312.50" y1="166.00" x2="321.50" y2="166.00" stroke="#1a1a1a" stroke-width="1.0" stroke-linecap="butt"/>
<circle cx="317.00" cy="166.00" r="1.2" fill="#1a1a1a"/>
<text x="325.50" y="168.15" font-size="6.0" text-anchor="start" fill="#111" stroke="#111" stroke-width="0.18">WT</text>
<line x1="312.50" y1="175.00" x2="321.50" y2="175.00" stroke="#555" stroke-width="0.9" stroke-dasharray="2 1.4" stroke-linecap="butt"/>
<circle cx="317.00" cy="175.00" r="1.4" fill="#fff" stroke="#444" stroke-width="0.7"/>
<text x="325.50" y="177.15" font-size="6.0" text-anchor="start" fill="#111" stroke="#111" stroke-width="0.18">B7-H3<tspan font-size="58%" dy="-2.3">&#8722;/&#8722;</tspan><tspan dy="2.3">&#8203;</tspan></text>
<text x="353.30" y="136.40" font-size="10.5" text-anchor="start" font-weight="bold" fill="#000" stroke="#000" stroke-width="0.18">D</text>
<text x="425.20" y="136.80" font-size="7" text-anchor="middle" fill="#111" stroke="#111" stroke-width="0.18">Colon</text>
<line x1="383.50" y1="218.16" x2="383.50" y2="213.46" stroke="#1a1a1a" stroke-width="0.9" stroke-linecap="butt"/>
<line x1="380.90" y1="213.46" x2="386.10" y2="213.46" stroke="#1a1a1a" stroke-width="0.9" stroke-linecap="butt"/>
<rect x="378.90" y="218.16" width="9.20" height="4.54" fill="#ffffff" stroke="#2a2a2a" stroke-width="0.85"/>
<line x1="396.12" y1="192.12" x2="396.12" y2="187.08" stroke="#1a1a1a" stroke-width="0.9" stroke-linecap="butt"/>
<line x1="393.52" y1="187.08" x2="398.72" y2="187.08" stroke="#1a1a1a" stroke-width="0.9" stroke-linecap="butt"/>
<rect x="391.52" y="192.12" width="9.20" height="30.58" fill="#767676" stroke="#2a2a2a" stroke-width="0.85"/>
<line x1="408.74" y1="176.50" x2="408.74" y2="171.46" stroke="#1a1a1a" stroke-width="0.9" stroke-linecap="butt"/>
<line x1="406.14" y1="171.46" x2="411.34" y2="171.46" stroke="#1a1a1a" stroke-width="0.9" stroke-linecap="butt"/>
<rect x="404.14" y="176.50" width="9.20" height="46.20" fill="#2e2e2e" stroke="#2a2a2a" stroke-width="0.85"/>
<line x1="421.36" y1="210.10" x2="421.36" y2="205.06" stroke="#1a1a1a" stroke-width="0.9" stroke-linecap="butt"/>
<line x1="418.76" y1="205.06" x2="423.96" y2="205.06" stroke="#1a1a1a" stroke-width="0.9" stroke-linecap="butt"/>
<rect x="416.76" y="210.10" width="9.20" height="12.60" fill="#ffffff" stroke="#2a2a2a" stroke-width="0.85"/>
<line x1="433.98" y1="187.08" x2="433.98" y2="176.50" stroke="#1a1a1a" stroke-width="0.9" stroke-linecap="butt"/>
<line x1="431.38" y1="176.50" x2="436.58" y2="176.50" stroke="#1a1a1a" stroke-width="0.9" stroke-linecap="butt"/>
<rect x="429.38" y="187.08" width="9.20" height="35.62" fill="#767676" stroke="#2a2a2a" stroke-width="0.85"/>
<line x1="446.60" y1="176.50" x2="446.60" y2="165.58" stroke="#1a1a1a" stroke-width="0.9" stroke-linecap="butt"/>
<line x1="444.00" y1="165.58" x2="449.20" y2="165.58" stroke="#1a1a1a" stroke-width="0.9" stroke-linecap="butt"/>
<rect x="442.00" y="176.50" width="9.20" height="46.20" fill="#2e2e2e" stroke="#2a2a2a" stroke-width="0.85"/>
<line x1="459.22" y1="210.10" x2="459.22" y2="205.06" stroke="#1a1a1a" stroke-width="0.9" stroke-linecap="butt"/>
<line x1="456.62" y1="205.06" x2="461.82" y2="205.06" stroke="#1a1a1a" stroke-width="0.9" stroke-linecap="butt"/>
<rect x="454.62" y="210.10" width="9.20" height="12.60" fill="#ffffff" stroke="#2a2a2a" stroke-width="0.85"/>
<line x1="471.84" y1="168.10" x2="471.84" y2="159.70" stroke="#1a1a1a" stroke-width="0.9" stroke-linecap="butt"/>
<line x1="469.24" y1="159.70" x2="474.44" y2="159.70" stroke="#1a1a1a" stroke-width="0.9" stroke-linecap="butt"/>
<rect x="467.24" y="168.10" width="9.20" height="54.60" fill="#767676" stroke="#2a2a2a" stroke-width="0.85"/>
<line x1="484.46" y1="157.18" x2="484.46" y2="153.82" stroke="#1a1a1a" stroke-width="0.9" stroke-linecap="butt"/>
<line x1="481.86" y1="153.82" x2="487.06" y2="153.82" stroke="#1a1a1a" stroke-width="0.9" stroke-linecap="butt"/>
<rect x="479.86" y="157.18" width="9.20" height="65.52" fill="#2e2e2e" stroke="#2a2a2a" stroke-width="0.85"/>
<line x1="377.10" y1="147.00" x2="377.10" y2="223.30" stroke="#1a1a1a" stroke-width="1.2" stroke-linecap="butt"/>
<line x1="375.10" y1="222.70" x2="377.10" y2="222.70" stroke="#1a1a1a" stroke-width="1.2" stroke-linecap="butt"/>
<text x="374.90" y="224.75" font-size="5.7" text-anchor="end" fill="#111" stroke="#111" stroke-width="0.18">0</text>
<line x1="375.10" y1="205.90" x2="377.10" y2="205.90" stroke="#1a1a1a" stroke-width="1.2" stroke-linecap="butt"/>
<text x="374.90" y="207.95" font-size="5.7" text-anchor="end" fill="#111" stroke="#111" stroke-width="0.18">1</text>
<line x1="375.10" y1="189.10" x2="377.10" y2="189.10" stroke="#1a1a1a" stroke-width="1.2" stroke-linecap="butt"/>
<text x="374.90" y="191.15" font-size="5.7" text-anchor="end" fill="#111" stroke="#111" stroke-width="0.18">2</text>
<line x1="375.10" y1="172.30" x2="377.10" y2="172.30" stroke="#1a1a1a" stroke-width="1.2" stroke-linecap="butt"/>
<text x="374.90" y="174.35" font-size="5.7" text-anchor="end" fill="#111" stroke="#111" stroke-width="0.18">3</text>
<line x1="375.10" y1="155.50" x2="377.10" y2="155.50" stroke="#1a1a1a" stroke-width="1.2" stroke-linecap="butt"/>
<text x="374.90" y="157.55" font-size="5.7" text-anchor="end" fill="#111" stroke="#111" stroke-width="0.18">4</text>
<line x1="375.10" y1="222.70" x2="490.20" y2="222.70" stroke="#1a1a1a" stroke-width="1.3" stroke-linecap="butt"/>
<line x1="383.50" y1="222.70" x2="383.50" y2="225.30" stroke="#1a1a1a" stroke-width="1.0" stroke-linecap="butt"/>
<text x="386.00" y="229.00" font-size="6.0" text-anchor="end" transform="rotate(-45 386.00 229.00)" fill="#111" stroke="#111" stroke-width="0.18">BM Only d7</text>
<line x1="396.12" y1="222.70" x2="396.12" y2="225.30" stroke="#1a1a1a" stroke-width="1.0" stroke-linecap="butt"/>
<text x="398.62" y="229.00" font-size="6.0" text-anchor="end" transform="rotate(-45 398.62 229.00)" fill="#111" stroke="#111" stroke-width="0.18">WT d7</text>
<line x1="408.74" y1="222.70" x2="408.74" y2="225.30" stroke="#1a1a1a" stroke-width="1.0" stroke-linecap="butt"/>
<text x="411.24" y="229.00" font-size="6.0" text-anchor="end" transform="rotate(-45 411.24 229.00)" fill="#111" stroke="#111" stroke-width="0.18">B7H3<tspan font-size="58%" dy="-2.3">&#8722;/&#8722;</tspan><tspan dy="2.3">&#8203;</tspan> d7</text>
<line x1="421.36" y1="222.70" x2="421.36" y2="225.30" stroke="#1a1a1a" stroke-width="1.0" stroke-linecap="butt"/>
<text x="423.86" y="229.00" font-size="6.0" text-anchor="end" transform="rotate(-45 423.86 229.00)" fill="#111" stroke="#111" stroke-width="0.18">BM Only d14</text>
<line x1="433.98" y1="222.70" x2="433.98" y2="225.30" stroke="#1a1a1a" stroke-width="1.0" stroke-linecap="butt"/>
<text x="436.48" y="229.00" font-size="6.0" text-anchor="end" transform="rotate(-45 436.48 229.00)" fill="#111" stroke="#111" stroke-width="0.18">WT d14</text>
<line x1="446.60" y1="222.70" x2="446.60" y2="225.30" stroke="#1a1a1a" stroke-width="1.0" stroke-linecap="butt"/>
<text x="449.10" y="229.00" font-size="6.0" text-anchor="end" transform="rotate(-45 449.10 229.00)" fill="#111" stroke="#111" stroke-width="0.18">B7H3<tspan font-size="58%" dy="-2.3">&#8722;/&#8722;</tspan><tspan dy="2.3">&#8203;</tspan> d14</text>
<line x1="459.22" y1="222.70" x2="459.22" y2="225.30" stroke="#1a1a1a" stroke-width="1.0" stroke-linecap="butt"/>
<text x="461.72" y="229.00" font-size="6.0" text-anchor="end" transform="rotate(-45 461.72 229.00)" fill="#111" stroke="#111" stroke-width="0.18">BM Only d21</text>
<line x1="471.84" y1="222.70" x2="471.84" y2="225.30" stroke="#1a1a1a" stroke-width="1.0" stroke-linecap="butt"/>
<text x="474.34" y="229.00" font-size="6.0" text-anchor="end" transform="rotate(-45 474.34 229.00)" fill="#111" stroke="#111" stroke-width="0.18">WT d21</text>
<line x1="484.46" y1="222.70" x2="484.46" y2="225.30" stroke="#1a1a1a" stroke-width="1.0" stroke-linecap="butt"/>
<text x="486.96" y="229.00" font-size="6.0" text-anchor="end" transform="rotate(-45 486.96 229.00)" fill="#111" stroke="#111" stroke-width="0.18">B7H3<tspan font-size="58%" dy="-2.3">&#8722;/&#8722;</tspan><tspan dy="2.3">&#8203;</tspan> d21</text>
<text x="362.50" y="185.00" font-size="6.25" text-anchor="middle" transform="rotate(-90 362.50 185.00)" fill="#111" stroke="#111" stroke-width="0.18">Histopathology Score</text>
<line x1="395.40" y1="168.70" x2="408.30" y2="168.70" stroke="#1a1a1a" stroke-width="1.3" stroke-linecap="butt"/>
<text x="401.85" y="168.50" font-size="6.5" text-anchor="middle" font-weight="bold" fill="#111" stroke="#111" stroke-width="0.18">**</text>
<line x1="471.00" y1="149.60" x2="484.40" y2="149.60" stroke="#1a1a1a" stroke-width="1.3" stroke-linecap="butt"/>
<text x="477.70" y="149.40" font-size="6.5" text-anchor="middle" font-weight="bold" fill="#111" stroke="#111" stroke-width="0.18">*</text>
<text x="3.80" y="275.00" font-size="10.5" text-anchor="start" font-weight="bold" fill="#000" stroke="#000" stroke-width="0.18">E</text>
<line x1="37.90" y1="333.30" x2="37.90" y2="331.60" stroke="#1a1a1a" stroke-width="0.9" stroke-linecap="butt"/>
<line x1="33.10" y1="331.60" x2="42.70" y2="331.60" stroke="#1a1a1a" stroke-width="0.9" stroke-linecap="butt"/>
<rect x="28.30" y="333.30" width="19.20" height="20.60" fill="#ffffff" stroke="#2a2a2a" stroke-width="0.85"/>
<line x1="66.25" y1="327.20" x2="66.25" y2="324.80" stroke="#1a1a1a" stroke-width="0.9" stroke-linecap="butt"/>
<line x1="61.45" y1="324.80" x2="71.05" y2="324.80" stroke="#1a1a1a" stroke-width="0.9" stroke-linecap="butt"/>
<rect x="56.70" y="327.20" width="19.10" height="26.70" fill="#6a6a6a" stroke="#2a2a2a" stroke-width="0.85"/>
<line x1="94.30" y1="294.40" x2="94.30" y2="292.50" stroke="#1a1a1a" stroke-width="0.9" stroke-linecap="butt"/>
<line x1="89.50" y1="292.50" x2="99.10" y2="292.50" stroke="#1a1a1a" stroke-width="0.9" stroke-linecap="butt"/>
<rect x="84.40" y="294.40" width="19.80" height="59.50" fill="#ffffff" stroke="#2a2a2a" stroke-width="0.85"/>
<line x1="122.90" y1="287.70" x2="122.90" y2="285.40" stroke="#1a1a1a" stroke-width="0.9" stroke-linecap="butt"/>
<line x1="118.10" y1="285.40" x2="127.70" y2="285.40" stroke="#1a1a1a" stroke-width="0.9" stroke-linecap="butt"/>
<rect x="113.30" y="287.70" width="19.20" height="66.20" fill="#6a6a6a" stroke="#2a2a2a" stroke-width="0.85"/>
<line x1="23.70" y1="277.00" x2="23.70" y2="354.50" stroke="#1a1a1a" stroke-width="1.2" stroke-linecap="butt"/>
<line x1="20.40" y1="353.90" x2="23.70" y2="353.90" stroke="#1a1a1a" stroke-width="1.2" stroke-linecap="butt"/>
<text x="20.20" y="355.95" font-size="5.7" text-anchor="end" fill="#111" stroke="#111" stroke-width="0.18">0</text>
<line x1="20.40" y1="334.95" x2="23.70" y2="334.95" stroke="#1a1a1a" stroke-width="1.2" stroke-linecap="butt"/>
<text x="20.20" y="337.00" font-size="5.7" text-anchor="end" fill="#111" stroke="#111" stroke-width="0.18">20</text>
<line x1="20.40" y1="316.00" x2="23.70" y2="316.00" stroke="#1a1a1a" stroke-width="1.2" stroke-linecap="butt"/>
<text x="20.20" y="318.05" font-size="5.7" text-anchor="end" fill="#111" stroke="#111" stroke-width="0.18">40</text>
<line x1="20.40" y1="297.05" x2="23.70" y2="297.05" stroke="#1a1a1a" stroke-width="1.2" stroke-linecap="butt"/>
<text x="20.20" y="299.10" font-size="5.7" text-anchor="end" fill="#111" stroke="#111" stroke-width="0.18">60</text>
<line x1="20.40" y1="278.10" x2="23.70" y2="278.10" stroke="#1a1a1a" stroke-width="1.2" stroke-linecap="butt"/>
<text x="20.20" y="280.15" font-size="5.7" text-anchor="end" fill="#111" stroke="#111" stroke-width="0.18">80</text>
<line x1="20.40" y1="353.90" x2="137.00" y2="353.90" stroke="#1a1a1a" stroke-width="1.3" stroke-linecap="butt"/>
<line x1="37.50" y1="353.90" x2="37.50" y2="356.50" stroke="#1a1a1a" stroke-width="1.0" stroke-linecap="butt"/>
<text x="39.00" y="361.50" font-size="6.1" text-anchor="end" transform="rotate(-26 39.00 361.50)" fill="#111" stroke="#111" stroke-width="0.18">WT CD4<tspan font-size="58%" dy="-2.3">+</tspan><tspan dy="2.3">&#8203;</tspan></text>
<line x1="66.00" y1="353.90" x2="66.00" y2="356.50" stroke="#1a1a1a" stroke-width="1.0" stroke-linecap="butt"/>
<text x="67.50" y="361.50" font-size="6.1" text-anchor="end" transform="rotate(-26 67.50 361.50)" fill="#111" stroke="#111" stroke-width="0.18">B7H3<tspan font-size="58%" dy="-2.3">&#8722;/&#8722;</tspan><tspan dy="2.3">&#8203;</tspan> CD4<tspan font-size="58%" dy="-2.3">+</tspan><tspan dy="2.3">&#8203;</tspan></text>
<line x1="94.20" y1="353.90" x2="94.20" y2="356.50" stroke="#1a1a1a" stroke-width="1.0" stroke-linecap="butt"/>
<text x="95.70" y="361.50" font-size="6.1" text-anchor="end" transform="rotate(-26 95.70 361.50)" fill="#111" stroke="#111" stroke-width="0.18">WT CD8<tspan font-size="58%" dy="-2.3">+</tspan><tspan dy="2.3">&#8203;</tspan></text>
<line x1="122.90" y1="353.90" x2="122.90" y2="356.50" stroke="#1a1a1a" stroke-width="1.0" stroke-linecap="butt"/>
<text x="124.40" y="361.50" font-size="6.1" text-anchor="end" transform="rotate(-26 124.40 361.50)" fill="#111" stroke="#111" stroke-width="0.18">B7H3<tspan font-size="58%" dy="-2.3">&#8722;/&#8722;</tspan><tspan dy="2.3">&#8203;</tspan> CD8<tspan font-size="58%" dy="-2.3">+</tspan><tspan dy="2.3">&#8203;</tspan></text>
<text x="10.50" y="316.00" font-size="6.25" text-anchor="middle" transform="rotate(-90 10.50 316.00)" fill="#111" stroke="#111" stroke-width="0.18">% &#945;4&#946;7</text>
<line x1="35.60" y1="321.00" x2="66.30" y2="321.00" stroke="#1a1a1a" stroke-width="1.3" stroke-linecap="butt"/>
<text x="50.95" y="320.80" font-size="6.5" text-anchor="middle" font-weight="bold" fill="#111" stroke="#111" stroke-width="0.18">*</text>
<line x1="93.50" y1="283.80" x2="123.80" y2="283.80" stroke="#1a1a1a" stroke-width="1.3" stroke-linecap="butt"/>
<text x="108.65" y="283.60" font-size="6.5" text-anchor="middle" font-weight="bold" fill="#111" stroke="#111" stroke-width="0.18">*</text>
<line x1="217.00" y1="294.40" x2="217.00" y2="293.60" stroke="#1a1a1a" stroke-width="0.9" stroke-linecap="butt"/>
<line x1="212.20" y1="293.60" x2="221.80" y2="293.60" stroke="#1a1a1a" stroke-width="0.9" stroke-linecap="butt"/>
<rect x="207.50" y="294.40" width="19.00" height="59.20" fill="#ffffff" stroke="#2a2a2a" stroke-width="0.85"/>
<line x1="245.10" y1="288.00" x2="245.10" y2="287.30" stroke="#1a1a1a" stroke-width="0.9" stroke-linecap="butt"/>
<line x1="240.30" y1="287.30" x2="249.90" y2="287.30" stroke="#1a1a1a" stroke-width="0.9" stroke-linecap="butt"/>
<rect x="235.40" y="288.00" width="19.40" height="65.60" fill="#6a6a6a" stroke="#2a2a2a" stroke-width="0.85"/>
<line x1="273.50" y1="288.50" x2="273.50" y2="287.70" stroke="#1a1a1a" stroke-width="0.9" stroke-linecap="butt"/>
<line x1="268.70" y1="287.70" x2="278.30" y2="287.70" stroke="#1a1a1a" stroke-width="0.9" stroke-linecap="butt"/>
<rect x="263.50" y="288.50" width="20.00" height="65.10" fill="#ffffff" stroke="#2a2a2a" stroke-width="0.85"/>
<line x1="301.90" y1="284.80" x2="301.90" y2="284.00" stroke="#1a1a1a" stroke-width="0.9" stroke-linecap="butt"/>
<line x1="297.10" y1="284.00" x2="306.70" y2="284.00" stroke="#1a1a1a" stroke-width="0.9" stroke-linecap="butt"/>
<rect x="292.30" y="284.80" width="19.20" height="68.80" fill="#6a6a6a" stroke="#2a2a2a" stroke-width="0.85"/>
<line x1="202.70" y1="276.50" x2="202.70" y2="354.20" stroke="#1a1a1a" stroke-width="1.2" stroke-linecap="butt"/>
<line x1="199.40" y1="353.60" x2="202.70" y2="353.60" stroke="#1a1a1a" stroke-width="1.2" stroke-linecap="butt"/>
<text x="199.20" y="355.65" font-size="5.7" text-anchor="end" fill="#111" stroke="#111" stroke-width="0.18">0</text>
<line x1="199.40" y1="338.50" x2="202.70" y2="338.50" stroke="#1a1a1a" stroke-width="1.2" stroke-linecap="butt"/>
<text x="199.20" y="340.55" font-size="5.7" text-anchor="end" fill="#111" stroke="#111" stroke-width="0.18">20</text>
<line x1="199.40" y1="323.40" x2="202.70" y2="323.40" stroke="#1a1a1a" stroke-width="1.2" stroke-linecap="butt"/>
<text x="199.20" y="325.45" font-size="5.7" text-anchor="end" fill="#111" stroke="#111" stroke-width="0.18">40</text>
<line x1="199.40" y1="308.30" x2="202.70" y2="308.30" stroke="#1a1a1a" stroke-width="1.2" stroke-linecap="butt"/>
<text x="199.20" y="310.35" font-size="5.7" text-anchor="end" fill="#111" stroke="#111" stroke-width="0.18">60</text>
<line x1="199.40" y1="293.20" x2="202.70" y2="293.20" stroke="#1a1a1a" stroke-width="1.2" stroke-linecap="butt"/>
<text x="199.20" y="295.25" font-size="5.7" text-anchor="end" fill="#111" stroke="#111" stroke-width="0.18">80</text>
<line x1="199.40" y1="278.10" x2="202.70" y2="278.10" stroke="#1a1a1a" stroke-width="1.2" stroke-linecap="butt"/>
<text x="199.20" y="280.15" font-size="5.7" text-anchor="end" fill="#111" stroke="#111" stroke-width="0.18">100</text>
<line x1="199.40" y1="353.60" x2="316.00" y2="353.60" stroke="#1a1a1a" stroke-width="1.3" stroke-linecap="butt"/>
<line x1="216.70" y1="353.60" x2="216.70" y2="356.20" stroke="#1a1a1a" stroke-width="1.0" stroke-linecap="butt"/>
<text x="218.20" y="361.20" font-size="6.1" text-anchor="end" transform="rotate(-26 218.20 361.20)" fill="#111" stroke="#111" stroke-width="0.18">WT CD4<tspan font-size="58%" dy="-2.3">+</tspan><tspan dy="2.3">&#8203;</tspan></text>
<line x1="245.00" y1="353.60" x2="245.00" y2="356.20" stroke="#1a1a1a" stroke-width="1.0" stroke-linecap="butt"/>
<text x="246.50" y="361.20" font-size="6.1" text-anchor="end" transform="rotate(-26 246.50 361.20)" fill="#111" stroke="#111" stroke-width="0.18">B7H3<tspan font-size="58%" dy="-2.3">&#8722;/&#8722;</tspan><tspan dy="2.3">&#8203;</tspan> CD4<tspan font-size="58%" dy="-2.3">+</tspan><tspan dy="2.3">&#8203;</tspan></text>
<line x1="273.50" y1="353.60" x2="273.50" y2="356.20" stroke="#1a1a1a" stroke-width="1.0" stroke-linecap="butt"/>
<text x="275.00" y="361.20" font-size="6.1" text-anchor="end" transform="rotate(-26 275.00 361.20)" fill="#111" stroke="#111" stroke-width="0.18">WT CD8<tspan font-size="58%" dy="-2.3">+</tspan><tspan dy="2.3">&#8203;</tspan></text>
<line x1="302.00" y1="353.60" x2="302.00" y2="356.20" stroke="#1a1a1a" stroke-width="1.0" stroke-linecap="butt"/>
<text x="303.50" y="361.20" font-size="6.1" text-anchor="end" transform="rotate(-26 303.50 361.20)" fill="#111" stroke="#111" stroke-width="0.18">B7H3<tspan font-size="58%" dy="-2.3">&#8722;/&#8722;</tspan><tspan dy="2.3">&#8203;</tspan> CD8<tspan font-size="58%" dy="-2.3">+</tspan><tspan dy="2.3">&#8203;</tspan></text>
<text x="180.50" y="315.00" font-size="6.25" text-anchor="middle" transform="rotate(-90 180.50 315.00)" fill="#111" stroke="#111" stroke-width="0.18">% IL-2<tspan font-size="58%" dy="-2.3">+</tspan><tspan dy="2.3">&#8203;</tspan></text>
<line x1="215.20" y1="284.80" x2="245.60" y2="284.80" stroke="#1a1a1a" stroke-width="1.3" stroke-linecap="butt"/>
<text x="230.40" y="284.60" font-size="6.5" text-anchor="middle" font-weight="bold" fill="#111" stroke="#111" stroke-width="0.18">***</text>
<line x1="272.70" y1="281.30" x2="302.90" y2="281.30" stroke="#1a1a1a" stroke-width="1.3" stroke-linecap="butt"/>
<text x="287.80" y="281.10" font-size="6.5" text-anchor="middle" font-weight="bold" fill="#111" stroke="#111" stroke-width="0.18">*</text>
<line x1="390.70" y1="305.40" x2="390.70" y2="301.70" stroke="#1a1a1a" stroke-width="0.9" stroke-linecap="butt"/>
<line x1="385.90" y1="301.70" x2="395.50" y2="301.70" stroke="#1a1a1a" stroke-width="0.9" stroke-linecap="butt"/>
<rect x="380.80" y="305.40" width="19.80" height="48.80" fill="#ffffff" stroke="#2a2a2a" stroke-width="0.85"/>
<line x1="418.85" y1="290.20" x2="418.85" y2="285.40" stroke="#1a1a1a" stroke-width="0.9" stroke-linecap="butt"/>
<line x1="414.05" y1="285.40" x2="423.65" y2="285.40" stroke="#1a1a1a" stroke-width="0.9" stroke-linecap="butt"/>
<rect x="409.20" y="290.20" width="19.30" height="64.00" fill="#6a6a6a" stroke="#2a2a2a" stroke-width="0.85"/>
<line x1="447.15" y1="334.30" x2="447.15" y2="333.70" stroke="#1a1a1a" stroke-width="0.9" stroke-linecap="butt"/>
<line x1="442.35" y1="333.70" x2="451.95" y2="333.70" stroke="#1a1a1a" stroke-width="0.9" stroke-linecap="butt"/>
<rect x="437.30" y="334.30" width="19.70" height="19.90" fill="#ffffff" stroke="#2a2a2a" stroke-width="0.85"/>
<line x1="475.60" y1="326.60" x2="475.60" y2="324.30" stroke="#1a1a1a" stroke-width="0.9" stroke-linecap="butt"/>
<line x1="470.80" y1="324.30" x2="480.40" y2="324.30" stroke="#1a1a1a" stroke-width="0.9" stroke-linecap="butt"/>
<rect x="465.80" y="326.60" width="19.60" height="27.60" fill="#6a6a6a" stroke="#2a2a2a" stroke-width="0.85"/>
<line x1="376.30" y1="277.50" x2="376.30" y2="354.80" stroke="#1a1a1a" stroke-width="1.2" stroke-linecap="butt"/>
<line x1="373.00" y1="354.20" x2="376.30" y2="354.20" stroke="#1a1a1a" stroke-width="1.2" stroke-linecap="butt"/>
<text x="372.80" y="356.25" font-size="5.7" text-anchor="end" fill="#111" stroke="#111" stroke-width="0.18">0</text>
<line x1="373.00" y1="329.20" x2="376.30" y2="329.20" stroke="#1a1a1a" stroke-width="1.2" stroke-linecap="butt"/>
<text x="372.80" y="331.25" font-size="5.7" text-anchor="end" fill="#111" stroke="#111" stroke-width="0.18">5</text>
<line x1="373.00" y1="304.20" x2="376.30" y2="304.20" stroke="#1a1a1a" stroke-width="1.2" stroke-linecap="butt"/>
<text x="372.80" y="306.25" font-size="5.7" text-anchor="end" fill="#111" stroke="#111" stroke-width="0.18">10</text>
<line x1="373.00" y1="279.20" x2="376.30" y2="279.20" stroke="#1a1a1a" stroke-width="1.2" stroke-linecap="butt"/>
<text x="372.80" y="281.25" font-size="5.7" text-anchor="end" fill="#111" stroke="#111" stroke-width="0.18">15</text>
<line x1="373.00" y1="354.20" x2="489.20" y2="354.20" stroke="#1a1a1a" stroke-width="1.3" stroke-linecap="butt"/>
<line x1="390.60" y1="354.20" x2="390.60" y2="356.80" stroke="#1a1a1a" stroke-width="1.0" stroke-linecap="butt"/>
<text x="392.10" y="361.80" font-size="6.1" text-anchor="end" transform="rotate(-26 392.10 361.80)" fill="#111" stroke="#111" stroke-width="0.18">WT CD4<tspan font-size="58%" dy="-2.3">+</tspan><tspan dy="2.3">&#8203;</tspan></text>
<line x1="418.80" y1="354.20" x2="418.80" y2="356.80" stroke="#1a1a1a" stroke-width="1.0" stroke-linecap="butt"/>
<text x="420.30" y="361.80" font-size="6.1" text-anchor="end" transform="rotate(-26 420.30 361.80)" fill="#111" stroke="#111" stroke-width="0.18">B7H3<tspan font-size="58%" dy="-2.3">&#8722;/&#8722;</tspan><tspan dy="2.3">&#8203;</tspan> CD4<tspan font-size="58%" dy="-2.3">+</tspan><tspan dy="2.3">&#8203;</tspan></text>
<line x1="447.00" y1="354.20" x2="447.00" y2="356.80" stroke="#1a1a1a" stroke-width="1.0" stroke-linecap="butt"/>
<text x="448.50" y="361.80" font-size="6.1" text-anchor="end" transform="rotate(-26 448.50 361.80)" fill="#111" stroke="#111" stroke-width="0.18">WT CD8<tspan font-size="58%" dy="-2.3">+</tspan><tspan dy="2.3">&#8203;</tspan></text>
<line x1="475.40" y1="354.20" x2="475.40" y2="356.80" stroke="#1a1a1a" stroke-width="1.0" stroke-linecap="butt"/>
<text x="476.90" y="361.80" font-size="6.1" text-anchor="end" transform="rotate(-26 476.90 361.80)" fill="#111" stroke="#111" stroke-width="0.18">B7H3<tspan font-size="58%" dy="-2.3">&#8722;/&#8722;</tspan><tspan dy="2.3">&#8203;</tspan> CD8<tspan font-size="58%" dy="-2.3">+</tspan><tspan dy="2.3">&#8203;</tspan></text>
<text x="355.00" y="316.00" font-size="6.25" text-anchor="middle" transform="rotate(-90 355.00 316.00)" fill="#111" stroke="#111" stroke-width="0.18">% Ki-67<tspan font-size="58%" dy="-2.3">+</tspan><tspan dy="2.3">&#8203;</tspan></text>
<line x1="389.00" y1="282.90" x2="418.80" y2="282.90" stroke="#1a1a1a" stroke-width="1.3" stroke-linecap="butt"/>
<text x="403.90" y="282.70" font-size="6.5" text-anchor="middle" font-weight="bold" fill="#111" stroke="#111" stroke-width="0.18">*</text>
<line x1="445.40" y1="320.40" x2="475.80" y2="320.40" stroke="#1a1a1a" stroke-width="1.3" stroke-linecap="butt"/>
<text x="460.60" y="320.20" font-size="6.5" text-anchor="middle" font-weight="bold" fill="#111" stroke="#111" stroke-width="0.18">*</text>
</g>
</svg>
</body></html>
